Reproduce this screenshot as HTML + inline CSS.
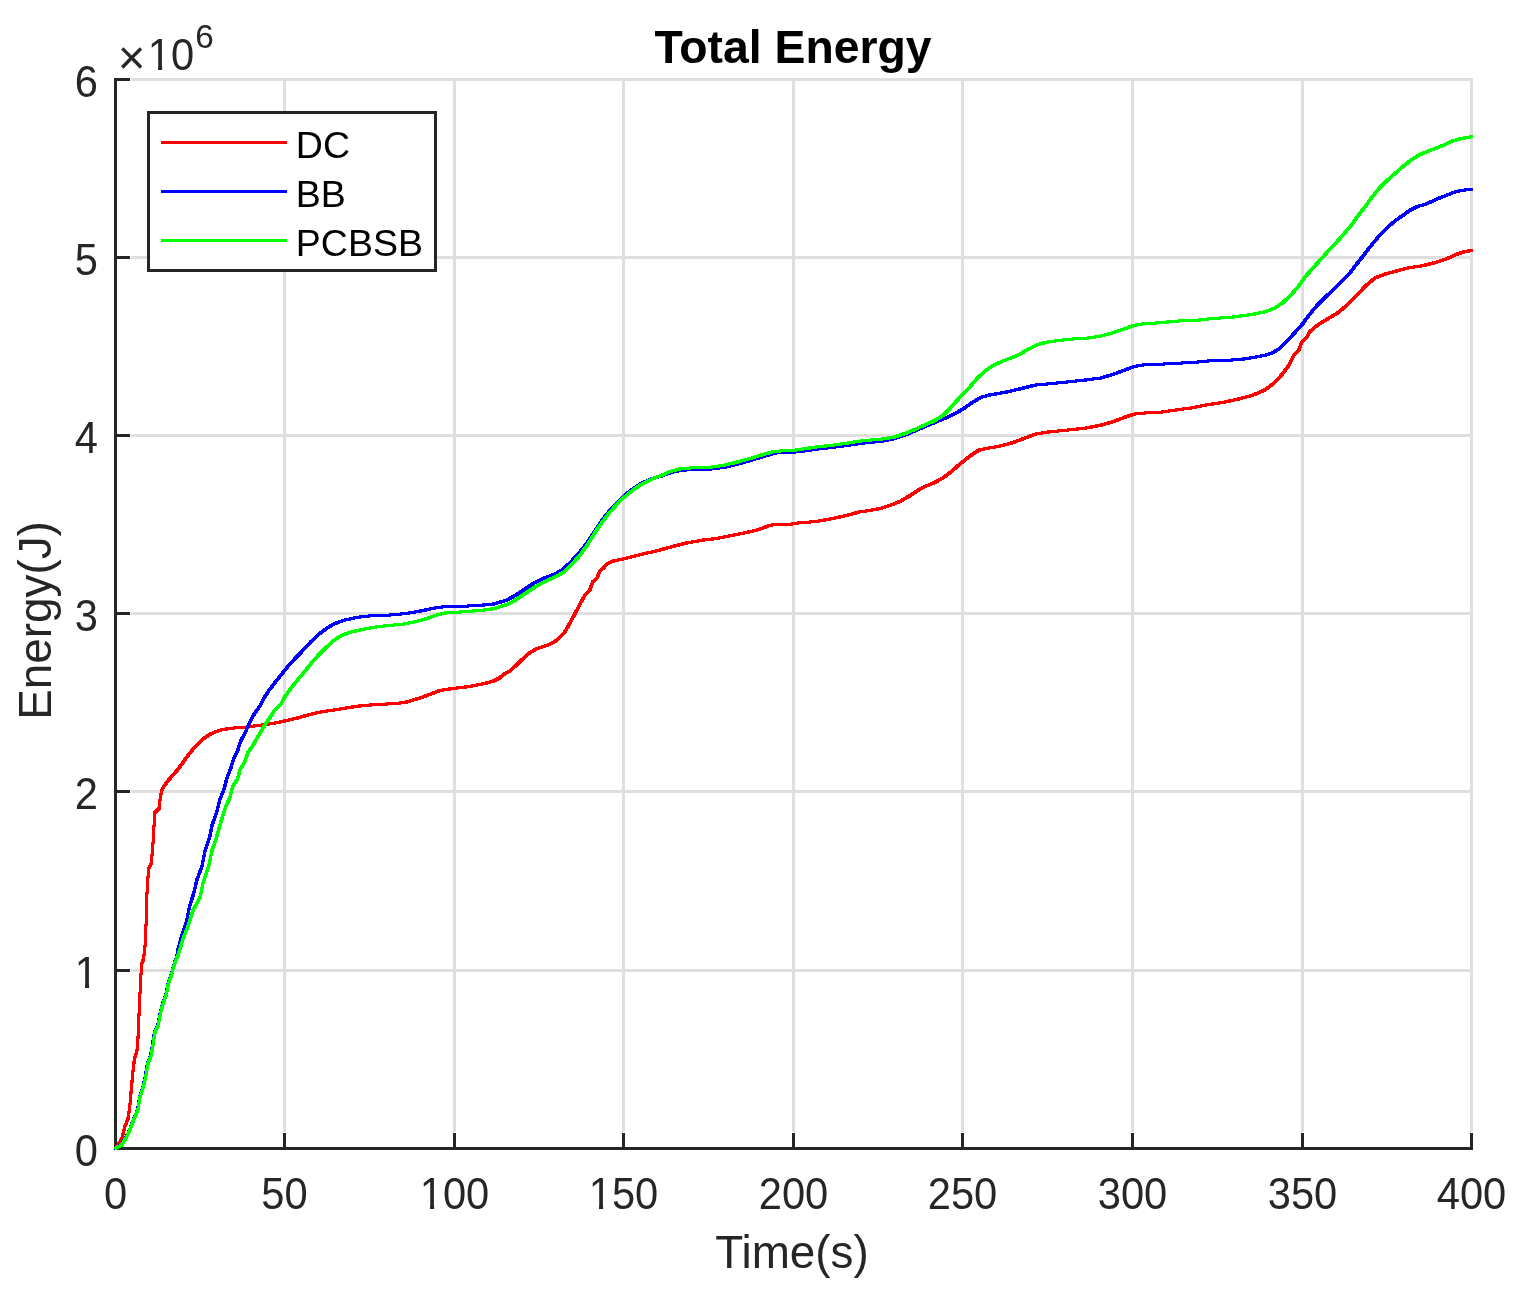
<!DOCTYPE html>
<html lang="en">
<head>
<meta charset="utf-8">
<title>Total Energy</title>
<style>
html,body{margin:0;padding:0;background:#fff;}
body{width:1528px;height:1297px;overflow:hidden;}
svg{display:block;}
text{font-family:"Liberation Sans", Arial, Helvetica, sans-serif;}
.tick{font-size:41.67px;fill:#262626;}
.lab{font-size:45.83px;fill:#262626;}
.leg{font-size:37.5px;fill:#000;}
.title{font-size:45.83px;font-weight:bold;fill:#000;}
</style>
</head>
<body>
<svg width="1528" height="1297" viewBox="0 0 1528 1297">
<rect x="0" y="0" width="1528" height="1297" fill="#ffffff"/>

<g stroke="#dfdfdf" stroke-width="3" shape-rendering="crispEdges" fill="none">
<line x1="115.5" y1="78.0" x2="115.5" y2="1132"/>
<line x1="284.5" y1="78.0" x2="284.5" y2="1132"/>
<line x1="454.5" y1="78.0" x2="454.5" y2="1132"/>
<line x1="623.5" y1="78.0" x2="623.5" y2="1132"/>
<line x1="793.5" y1="78.0" x2="793.5" y2="1132"/>
<line x1="962.5" y1="78.0" x2="962.5" y2="1132"/>
<line x1="1132.5" y1="78.0" x2="1132.5" y2="1132"/>
<line x1="1302.5" y1="78.0" x2="1302.5" y2="1132"/>
<line x1="1471.5" y1="78.0" x2="1471.5" y2="1132"/>
<line x1="131" y1="1148.5" x2="1473.0" y2="1148.5"/>
<line x1="131" y1="970.5" x2="1473.0" y2="970.5"/>
<line x1="131" y1="791.5" x2="1473.0" y2="791.5"/>
<line x1="131" y1="613.5" x2="1473.0" y2="613.5"/>
<line x1="131" y1="435.5" x2="1473.0" y2="435.5"/>
<line x1="131" y1="257.5" x2="1473.0" y2="257.5"/>
<line x1="131" y1="79.5" x2="1473.0" y2="79.5"/>
</g>
<g stroke="#262626" stroke-width="3" shape-rendering="crispEdges" fill="none">
<line x1="115.5" y1="78.0" x2="115.5" y2="1150.0"/>
<line x1="114.0" y1="1148.5" x2="1473.0" y2="1148.5"/>
<line x1="284.5" y1="1150.0" x2="284.5" y2="1133"/>
<line x1="454.5" y1="1150.0" x2="454.5" y2="1133"/>
<line x1="623.5" y1="1150.0" x2="623.5" y2="1133"/>
<line x1="793.5" y1="1150.0" x2="793.5" y2="1133"/>
<line x1="962.5" y1="1150.0" x2="962.5" y2="1133"/>
<line x1="1132.5" y1="1150.0" x2="1132.5" y2="1133"/>
<line x1="1302.5" y1="1150.0" x2="1302.5" y2="1133"/>
<line x1="1471.5" y1="1150.0" x2="1471.5" y2="1133"/>
<line x1="114.0" y1="970.5" x2="130" y2="970.5"/>
<line x1="114.0" y1="791.5" x2="130" y2="791.5"/>
<line x1="114.0" y1="613.5" x2="130" y2="613.5"/>
<line x1="114.0" y1="435.5" x2="130" y2="435.5"/>
<line x1="114.0" y1="257.5" x2="130" y2="257.5"/>
<line x1="114.0" y1="79.5" x2="130" y2="79.5"/>
</g>
<clipPath id="c"><rect x="114.0" y="78.0" width="1359.0" height="1072.0"/></clipPath>
<g stroke="none" fill-rule="nonzero" shape-rendering="crispEdges" clip-path="url(#c)">
<path fill="#ff0000" d="M114.4 1146.95 120.1 1138.55 120.45 1138.2 122.75 1138.2 123.1 1138.55 123.1 1140.85 117.4 1149.25 117.05 1149.6 114.75 1149.6 114.4 1149.25ZM120.1 1138.55 123.1 1126.15 123.45 1125.8 125.75 1125.8 126.1 1126.15 126.1 1128.45 123.1 1140.85 122.75 1141.2 120.45 1141.2 120.1 1140.85ZM123.1 1126.15 126.7 1116.95 127.05 1116.6 129.35 1116.6 129.7 1116.95 129.7 1119.25 126.1 1128.45 125.75 1128.8 123.45 1128.8 123.1 1128.45ZM126.7 1116.95 128.2 1106.15 128.55 1105.8 130.85 1105.8 131.2 1106.15 131.2 1108.45 129.7 1119.25 129.35 1119.6 127.05 1119.6 126.7 1119.25ZM128.2 1106.15 129.3 1093.75 129.65 1093.4 131.95 1093.4 132.3 1093.75 132.3 1096.05 131.2 1108.45 130.85 1108.8 128.55 1108.8 128.2 1108.45ZM129.3 1093.75 130.4 1081.45 130.75 1081.1 133.05 1081.1 133.4 1081.45 133.4 1083.75 132.3 1096.05 131.95 1096.4 129.65 1096.4 129.3 1096.05ZM130.4 1081.45 131.6 1069.15 131.95 1068.8 134.25 1068.8 134.6 1069.15 134.6 1071.45 133.4 1083.75 133.05 1084.1 130.75 1084.1 130.4 1083.75ZM131.6 1069.15 132.9 1058.35 133.25 1058 135.55 1058 135.9 1058.35 135.9 1060.65 134.6 1071.45 134.25 1071.8 131.95 1071.8 131.6 1071.45ZM132.9 1058.35 135.5 1049.05 135.85 1048.7 138.15 1048.7 138.5 1049.05 138.5 1051.35 135.9 1060.65 135.55 1061 133.25 1061 132.9 1060.65ZM135.5 1049.05 136.6 1035.25 136.95 1034.9 139.25 1034.9 139.6 1035.25 139.6 1037.55 138.5 1051.35 138.15 1051.7 135.85 1051.7 135.5 1051.35ZM136.6 1035.25 137.5 1013.65 137.85 1013.3 140.15 1013.3 140.5 1013.65 140.5 1015.95 139.6 1037.55 139.25 1037.9 136.95 1037.9 136.6 1037.55ZM137.5 1013.65 138.6 990.45 138.95 990.1 141.25 990.1 141.6 990.45 141.6 992.75 140.5 1015.95 140.15 1016.3 137.85 1016.3 137.5 1015.95ZM138.6 990.45 139.3 976.65 139.65 976.3 141.95 976.3 142.3 976.65 142.3 978.95 141.6 992.75 141.25 993.1 138.95 993.1 138.6 992.75ZM139.3 976.65 140.1 962.75 140.45 962.4 142.75 962.4 143.1 962.75 143.1 965.05 142.3 978.95 141.95 979.3 139.65 979.3 139.3 978.95ZM140.1 962.75 142.1 957.75 142.45 957.4 144.75 957.4 145.1 957.75 145.1 960.05 143.1 965.05 142.75 965.4 140.45 965.4 140.1 965.05ZM142.1 957.75 144 940.75 144.35 940.4 146.65 940.4 147 940.75 147 943.05 145.1 960.05 144.75 960.4 142.45 960.4 142.1 960.05ZM144 940.75 144.6 920.75 144.95 920.4 147.25 920.4 147.6 920.75 147.6 923.05 147 943.05 146.65 943.4 144.35 943.4 144 943.05ZM144.6 920.75 145.2 897.65 145.55 897.3 147.85 897.3 148.2 897.65 148.2 899.95 147.6 923.05 147.25 923.4 144.95 923.4 144.6 923.05ZM145.2 897.65 146.3 877.55 146.65 877.2 148.95 877.2 149.3 877.55 149.3 879.85 148.2 899.95 147.85 900.3 145.55 900.3 145.2 899.95ZM146.3 877.55 147.4 866.75 147.75 866.4 150.05 866.4 150.4 866.75 150.4 869.05 149.3 879.85 148.95 880.2 146.65 880.2 146.3 879.85ZM147.4 866.75 149.8 862.15 150.15 861.8 152.45 861.8 152.8 862.15 152.8 864.45 150.4 869.05 150.05 869.4 147.75 869.4 147.4 869.05ZM149.8 862.15 151.4 843.65 151.75 843.3 154.05 843.3 154.4 843.65 154.4 845.95 152.8 864.45 152.45 864.8 150.15 864.8 149.8 864.45ZM151.4 843.65 152.4 826.65 152.75 826.3 155.05 826.3 155.4 826.65 155.4 828.95 154.4 845.95 154.05 846.3 151.75 846.3 151.4 845.95ZM152.4 826.65 153.5 811.25 153.85 810.9 156.15 810.9 156.5 811.25 156.5 813.55 155.4 828.95 155.05 829.3 152.75 829.3 152.4 828.95ZM153.5 811.25 153.85 810.9 157.85 807.1 160.15 807.1 160.5 807.45 160.5 809.75 160.15 810.1 156.15 813.9 153.85 813.9 153.5 813.55ZM157.5 807.45 159.1 794.35 159.45 794 161.75 794 162.1 794.35 162.1 796.65 160.5 809.75 160.15 810.1 157.85 810.1 157.5 809.75ZM159.1 794.35 160.7 787.85 161.05 787.5 163.35 787.5 163.7 787.85 163.7 790.15 162.1 796.65 161.75 797 159.45 797 159.1 796.65ZM160.7 787.85 165.5 780.75 165.85 780.4 168.15 780.4 168.5 780.75 168.5 783.05 163.7 790.15 163.35 790.5 161.05 790.5 160.7 790.15ZM165.5 780.75 176.3 768.35 176.65 768 178.95 768 179.3 768.35 179.3 770.65 168.5 783.05 168.15 783.4 165.85 783.4 165.5 783.05ZM176.3 768.35 184.7 756.85 185.05 756.5 187.35 756.5 187.7 756.85 187.7 759.15 179.3 770.65 178.95 771 176.65 771 176.3 770.65ZM184.7 756.85 192.4 746.85 192.75 746.5 195.05 746.5 195.4 746.85 195.4 749.15 187.7 759.15 187.35 759.5 185.05 759.5 184.7 759.15ZM192.4 746.85 192.75 746.5 201.25 738 203.55 738 203.9 738.35 203.9 740.65 203.55 741 195.05 749.5 192.75 749.5 192.4 749.15ZM200.9 738.35 201.25 738 209.75 732.3 212.05 732.3 212.4 732.65 212.4 734.95 212.05 735.3 203.55 741 201.25 741 200.9 740.65ZM209.4 732.65 209.75 732.3 218.25 728.8 220.55 728.8 220.9 729.15 220.9 731.45 220.55 731.8 212.05 735.3 209.75 735.3 209.4 734.95ZM217.9 729.15 218.25 728.8 229.05 726.8 231.35 726.8 231.7 727.15 231.7 729.45 231.35 729.8 220.55 731.8 218.25 731.8 217.9 731.45ZM228.7 727.15 229.05 726.8 244.45 725.7 246.75 725.7 247.1 726.05 247.1 728.35 246.75 728.7 231.35 729.8 229.05 729.8 228.7 729.45ZM244.1 726.05 244.45 725.7 261.35 723.4 263.65 723.4 264 723.75 264 726.05 263.65 726.4 246.75 728.7 244.45 728.7 244.1 728.35ZM261 723.75 261.35 723.4 272.15 721.8 274.45 721.8 274.8 722.15 274.8 724.45 274.45 724.8 263.65 726.4 261.35 726.4 261 726.05ZM271.8 722.15 272.15 721.8 283.45 719.5 285.75 719.5 286.1 719.85 286.1 722.15 285.75 722.5 274.45 724.8 272.15 724.8 271.8 724.45ZM283.1 719.85 283.45 719.5 296.85 716.4 299.15 716.4 299.5 716.75 299.5 719.05 299.15 719.4 285.75 722.5 283.45 722.5 283.1 722.15ZM296.5 716.75 296.85 716.4 309.15 712.9 311.45 712.9 311.8 713.25 311.8 715.55 311.45 715.9 299.15 719.4 296.85 719.4 296.5 719.05ZM308.8 713.25 309.15 712.9 318.45 710.7 320.75 710.7 321.1 711.05 321.1 713.35 320.75 713.7 311.45 715.9 309.15 715.9 308.8 715.55ZM318.1 711.05 318.45 710.7 333.85 708.33 336.15 708.33 336.5 708.68 336.5 710.98 336.15 711.33 320.75 713.7 318.45 713.7 318.1 713.35ZM333.5 708.68 333.85 708.33 349.25 705.82 351.55 705.82 351.9 706.17 351.9 708.47 351.55 708.82 336.15 711.33 333.85 711.33 333.5 710.98ZM348.9 706.17 349.25 705.82 360.05 704.28 362.35 704.28 362.7 704.63 362.7 706.93 362.35 707.28 351.55 708.82 349.25 708.82 348.9 708.47ZM359.7 704.63 360.05 704.28 371.45 703.34 373.75 703.34 374.1 703.69 374.1 705.99 373.75 706.34 362.35 707.28 360.05 707.28 359.7 706.93ZM371.1 703.69 371.45 703.34 396.55 701.89 398.85 701.89 399.2 702.24 399.2 704.54 398.85 704.89 373.75 706.34 371.45 706.34 371.1 705.99ZM396.2 702.24 396.55 701.89 405.95 700.4 408.25 700.4 408.6 700.75 408.6 703.05 408.25 703.4 398.85 704.89 396.55 704.89 396.2 704.54ZM405.6 700.75 405.95 700.4 421.65 695.6 423.95 695.6 424.3 695.95 424.3 698.25 423.95 698.6 408.25 703.4 405.95 703.4 405.6 703.05ZM421.3 695.95 421.65 695.6 431.05 692 433.35 692 433.7 692.35 433.7 694.65 433.35 695 423.95 698.6 421.65 698.6 421.3 698.25ZM430.7 692.35 431.05 692 438.95 688.9 441.25 688.9 441.6 689.25 441.6 691.55 441.25 691.9 433.35 695 431.05 695 430.7 694.65ZM438.6 689.25 438.95 688.9 453.05 686.8 455.35 686.8 455.7 687.15 455.7 689.45 455.35 689.8 441.25 691.9 438.95 691.9 438.6 691.55ZM452.7 687.15 453.05 686.8 468.75 685 471.05 685 471.4 685.35 471.4 687.65 471.05 688 455.35 689.8 453.05 689.8 452.7 689.45ZM468.4 685.35 468.75 685 484.45 681.8 486.75 681.8 487.1 682.15 487.1 684.45 486.75 684.8 471.05 688 468.75 688 468.4 687.65ZM484.1 682.15 484.45 681.8 492.35 679.5 494.65 679.5 495 679.85 495 682.15 494.65 682.5 486.75 684.8 484.45 684.8 484.1 684.45ZM492 679.85 492.35 679.5 497.85 676.8 500.15 676.8 500.5 677.15 500.5 679.45 500.15 679.8 494.65 682.5 492.35 682.5 492 682.15ZM497.5 677.15 497.85 676.8 503.35 672.4 505.65 672.4 506 672.75 506 675.05 505.65 675.4 500.15 679.8 497.85 679.8 497.5 679.45ZM503 672.75 503.35 672.4 508.05 670 510.35 670 510.7 670.35 510.7 672.65 510.35 673 505.65 675.4 503.35 675.4 503 675.05ZM507.7 670.35 508.05 670 514.35 664.5 516.65 664.5 517 664.85 517 667.15 516.65 667.5 510.35 673 508.05 673 507.7 672.65ZM514 664.85 514.35 664.5 520.65 658.3 522.95 658.3 523.3 658.65 523.3 660.95 522.95 661.3 516.65 667.5 514.35 667.5 514 667.15ZM520.3 658.65 520.65 658.3 527.65 652 529.95 652 530.3 652.35 530.3 654.65 529.95 655 522.95 661.3 520.65 661.3 520.3 660.95ZM527.3 652.35 527.65 652 534.75 647.6 537.05 647.6 537.4 647.95 537.4 650.25 537.05 650.6 529.95 655 527.65 655 527.3 654.65ZM534.4 647.95 534.75 647.6 547.35 643.3 549.65 643.3 550 643.65 550 645.95 549.65 646.3 537.05 650.6 534.75 650.6 534.4 650.25ZM547 643.65 547.35 643.3 555.15 639.1 557.45 639.1 557.8 639.45 557.8 641.75 557.45 642.1 549.65 646.3 547.35 646.3 547 645.95ZM554.8 639.45 555.15 639.1 563.05 631.6 565.35 631.6 565.7 631.95 565.7 634.25 565.35 634.6 557.45 642.1 555.15 642.1 554.8 641.75ZM562.7 631.95 568.8 621.25 569.15 620.9 571.45 620.9 571.8 621.25 571.8 623.55 565.7 634.25 565.35 634.6 563.05 634.6 562.7 634.25ZM568.8 621.25 575 609.55 575.35 609.2 577.65 609.2 578 609.55 578 611.85 571.8 623.55 571.45 623.9 569.15 623.9 568.8 623.55ZM575 609.55 583.3 594.15 583.65 593.8 585.95 593.8 586.3 594.15 586.3 596.45 578 611.85 577.65 612.2 575.35 612.2 575 611.85ZM583.3 594.15 588.3 589.05 588.65 588.7 590.95 588.7 591.3 589.05 591.3 591.35 586.3 596.45 585.95 596.8 583.65 596.8 583.3 596.45ZM588.3 589.05 591.1 580.85 591.45 580.5 593.75 580.5 594.1 580.85 594.1 583.15 591.3 591.35 590.95 591.7 588.65 591.7 588.3 591.35ZM591.1 580.85 591.45 580.5 595.75 576.9 598.05 576.9 598.4 577.25 598.4 579.55 598.05 579.9 593.75 583.5 591.45 583.5 591.1 583.15ZM595.4 577.25 598.2 569.85 598.55 569.5 600.85 569.5 601.2 569.85 601.2 572.15 598.4 579.55 598.05 579.9 595.75 579.9 595.4 579.55ZM598.2 569.85 598.55 569.5 602.65 566.3 604.95 566.3 605.3 566.65 605.3 568.95 604.95 569.3 600.85 572.5 598.55 572.5 598.2 572.15ZM602.3 566.65 605.4 562.75 605.75 562.4 608.05 562.4 608.4 562.75 608.4 565.05 605.3 568.95 604.95 569.3 602.65 569.3 602.3 568.95ZM605.4 562.75 605.75 562.4 612.85 559.3 615.15 559.3 615.5 559.65 615.5 561.95 615.15 562.3 608.05 565.4 605.75 565.4 605.4 565.05ZM612.5 559.65 612.85 559.3 622.25 557.4 624.55 557.4 624.9 557.75 624.9 560.05 624.55 560.4 615.15 562.3 612.85 562.3 612.5 561.95ZM621.9 557.75 622.25 557.4 639.55 553 641.85 553 642.2 553.35 642.2 555.65 641.85 556 624.55 560.4 622.25 560.4 621.9 560.05ZM639.2 553.35 639.55 553 656.85 549.1 659.15 549.1 659.5 549.45 659.5 551.75 659.15 552.1 641.85 556 639.55 556 639.2 555.65ZM656.5 549.45 656.85 549.1 670.95 545.1 673.25 545.1 673.6 545.45 673.6 547.75 673.25 548.1 659.15 552.1 656.85 552.1 656.5 551.75ZM670.6 545.45 670.95 545.1 686.65 541.2 688.95 541.2 689.3 541.55 689.3 543.85 688.95 544.2 673.25 548.1 670.95 548.1 670.6 547.75ZM686.3 541.55 686.65 541.2 702.35 538.5 704.65 538.5 705 538.85 705 541.15 704.65 541.5 688.95 544.2 686.65 544.2 686.3 543.85ZM702 538.85 702.35 538.5 713.35 537.3 715.65 537.3 716 537.65 716 539.95 715.65 540.3 704.65 541.5 702.35 541.5 702 541.15ZM713 537.65 713.35 537.3 725.95 534.9 728.25 534.9 728.6 535.25 728.6 537.55 728.25 537.9 715.65 540.3 713.35 540.3 713 539.95ZM725.6 535.25 725.95 534.9 741.65 531.8 743.95 531.8 744.3 532.15 744.3 534.45 743.95 534.8 728.25 537.9 725.95 537.9 725.6 537.55ZM741.3 532.15 741.65 531.8 757.35 528.2 759.65 528.2 760 528.55 760 530.85 759.65 531.2 743.95 534.8 741.65 534.8 741.3 534.45ZM757 528.55 757.35 528.2 768.35 523.9 770.65 523.9 771 524.25 771 526.55 770.65 526.9 759.65 531.2 757.35 531.2 757 530.85ZM768 524.25 768.35 523.9 776.15 522.8 778.45 522.8 778.8 523.15 778.8 525.45 778.45 525.8 770.65 526.9 768.35 526.9 768 526.55ZM775.8 523.15 776.15 522.8 791.05 522.8 791.4 523.15 791.4 525.45 791.05 525.8 776.15 525.8 775.8 525.45ZM788.4 523.15 788.75 522.8 798.15 521.3 800.45 521.3 800.8 521.65 800.8 523.95 800.45 524.3 791.05 525.8 788.75 525.8 788.4 525.45ZM797.8 521.65 798.15 521.3 814.55 520.1 816.85 520.1 817.2 520.45 817.2 522.75 816.85 523.1 800.45 524.3 798.15 524.3 797.8 523.95ZM814.2 520.45 814.55 520.1 830.25 517.3 832.55 517.3 832.9 517.65 832.9 519.95 832.55 520.3 816.85 523.1 814.55 523.1 814.2 522.75ZM829.9 517.65 830.25 517.3 845.95 513.8 848.25 513.8 848.6 514.15 848.6 516.45 848.25 516.8 832.55 520.3 830.25 520.3 829.9 519.95ZM845.6 514.15 845.95 513.8 858.55 510.4 860.85 510.4 861.2 510.75 861.2 513.05 860.85 513.4 848.25 516.8 845.95 516.8 845.6 516.45ZM858.2 510.75 858.55 510.4 869.55 508.8 871.85 508.8 872.2 509.15 872.2 511.45 871.85 511.8 860.85 513.4 858.55 513.4 858.2 513.05ZM869.2 509.15 869.55 508.8 880.55 506.7 882.85 506.7 883.2 507.05 883.2 509.35 882.85 509.7 871.85 511.8 869.55 511.8 869.2 511.45ZM880.2 507.05 880.55 506.7 889.95 503.6 892.25 503.6 892.6 503.95 892.6 506.25 892.25 506.6 882.85 509.7 880.55 509.7 880.2 509.35ZM889.6 503.95 889.95 503.6 899.35 499.7 901.65 499.7 902 500.05 902 502.35 901.65 502.7 892.25 506.6 889.95 506.6 889.6 506.25ZM899 500.05 899.35 499.7 908.75 494.2 911.05 494.2 911.4 494.55 911.4 496.85 911.05 497.2 901.65 502.7 899.35 502.7 899 502.35ZM908.4 494.55 908.75 494.2 918.25 487.9 920.55 487.9 920.9 488.25 920.9 490.55 920.55 490.9 911.05 497.2 908.75 497.2 908.4 496.85ZM917.9 488.25 918.25 487.9 924.45 484.8 926.75 484.8 927.1 485.15 927.1 487.45 926.75 487.8 920.55 490.9 918.25 490.9 917.9 490.55ZM924.1 485.15 924.45 484.8 933.95 480.8 936.25 480.8 936.6 481.15 936.6 483.45 936.25 483.8 926.75 487.8 924.45 487.8 924.1 487.45ZM933.6 481.15 933.95 480.8 941.75 476.4 944.05 476.4 944.4 476.75 944.4 479.05 944.05 479.4 936.25 483.8 933.95 483.8 933.6 483.45ZM941.4 476.75 941.75 476.4 949.65 470.6 951.95 470.6 952.3 470.95 952.3 473.25 951.95 473.6 944.05 479.4 941.75 479.4 941.4 479.05ZM949.3 470.95 949.65 470.6 957.45 463.6 959.75 463.6 960.1 463.95 960.1 466.25 959.75 466.6 951.95 473.6 949.65 473.6 949.3 473.25ZM957.1 463.95 957.45 463.6 965.35 457.3 967.65 457.3 968 457.65 968 459.95 967.65 460.3 959.75 466.6 957.45 466.6 957.1 466.25ZM965 457.65 965.35 457.3 971.65 452.6 973.95 452.6 974.3 452.95 974.3 455.25 973.95 455.6 967.65 460.3 965.35 460.3 965 459.95ZM971.3 452.95 971.65 452.6 977.85 448.6 980.15 448.6 980.5 448.95 980.5 451.25 980.15 451.6 973.95 455.6 971.65 455.6 971.3 455.25ZM977.5 448.95 977.85 448.6 987.35 446.6 989.65 446.6 990 446.95 990 449.25 989.65 449.6 980.15 451.6 977.85 451.6 977.5 451.25ZM987 446.95 987.35 446.6 998.35 444.7 1000.65 444.7 1001 445.05 1001 447.35 1000.65 447.7 989.65 449.6 987.35 449.6 987 449.25ZM998 445.05 998.35 444.7 1010.85 441.4 1013.15 441.4 1013.5 441.75 1013.5 444.05 1013.15 444.4 1000.65 447.7 998.35 447.7 998 447.35ZM1010.5 441.75 1010.85 441.4 1022.45 437.1 1024.75 437.1 1025.1 437.45 1025.1 439.75 1024.75 440.1 1013.15 444.4 1010.85 444.4 1010.5 444.05ZM1022.1 437.45 1022.45 437.1 1035.05 432.3 1037.35 432.3 1037.7 432.65 1037.7 434.95 1037.35 435.3 1024.75 440.1 1022.45 440.1 1022.1 439.75ZM1034.7 432.65 1035.05 432.3 1048.15 430.4 1050.45 430.4 1050.8 430.75 1050.8 433.05 1050.45 433.4 1037.35 435.3 1035.05 435.3 1034.7 434.95ZM1047.8 430.75 1048.15 430.4 1063.85 428.8 1066.15 428.8 1066.5 429.15 1066.5 431.45 1066.15 431.8 1050.45 433.4 1048.15 433.4 1047.8 433.05ZM1063.5 429.15 1063.85 428.8 1084.25 426.7 1086.55 426.7 1086.9 427.05 1086.9 429.35 1086.55 429.7 1066.15 431.8 1063.85 431.8 1063.5 431.45ZM1083.9 427.05 1084.25 426.7 1099.95 423.6 1102.25 423.6 1102.6 423.95 1102.6 426.25 1102.25 426.6 1086.55 429.7 1084.25 429.7 1083.9 429.35ZM1099.6 423.95 1099.95 423.6 1112.55 420 1114.85 420 1115.2 420.35 1115.2 422.65 1114.85 423 1102.25 426.6 1099.95 426.6 1099.6 426.25ZM1112.2 420.35 1112.55 420 1123.55 415.8 1125.85 415.8 1126.2 416.15 1126.2 418.45 1125.85 418.8 1114.85 423 1112.55 423 1112.2 422.65ZM1123.2 416.15 1123.55 415.8 1132.95 412.6 1135.25 412.6 1135.6 412.95 1135.6 415.25 1135.25 415.6 1125.85 418.8 1123.55 418.8 1123.2 418.45ZM1132.6 412.95 1132.95 412.6 1143.95 411.5 1146.25 411.5 1146.6 411.85 1146.6 414.15 1146.25 414.5 1135.25 415.6 1132.95 415.6 1132.6 415.25ZM1143.6 411.85 1143.95 411.5 1159.65 410.7 1161.95 410.7 1162.3 411.05 1162.3 413.35 1161.95 413.7 1146.25 414.5 1143.95 414.5 1143.6 414.15ZM1159.3 411.05 1159.65 410.7 1175.35 408.4 1177.65 408.4 1178 408.75 1178 411.05 1177.65 411.4 1161.95 413.7 1159.65 413.7 1159.3 413.35ZM1175 408.75 1175.35 408.4 1191.05 406.3 1193.35 406.3 1193.7 406.65 1193.7 408.95 1193.35 409.3 1177.65 411.4 1175.35 411.4 1175 411.05ZM1190.7 406.65 1191.05 406.3 1206.75 403.2 1209.05 403.2 1209.4 403.55 1209.4 405.85 1209.05 406.2 1193.35 409.3 1191.05 409.3 1190.7 408.95ZM1206.4 403.55 1206.75 403.2 1222.45 400.8 1224.75 400.8 1225.1 401.15 1225.1 403.45 1224.75 403.8 1209.05 406.2 1206.75 406.2 1206.4 405.85ZM1222.1 401.15 1222.45 400.8 1237.35 397.5 1239.65 397.5 1240 397.85 1240 400.15 1239.65 400.5 1224.75 403.8 1222.45 403.8 1222.1 403.45ZM1237 397.85 1237.35 397.5 1251.45 393.8 1253.75 393.8 1254.1 394.15 1254.1 396.45 1253.75 396.8 1239.65 400.5 1237.35 400.5 1237 400.15ZM1251.1 394.15 1251.45 393.8 1263.95 388.3 1266.25 388.3 1266.6 388.65 1266.6 390.95 1266.25 391.3 1253.75 396.8 1251.45 396.8 1251.1 396.45ZM1263.6 388.65 1263.95 388.3 1273.45 381.2 1275.75 381.2 1276.1 381.55 1276.1 383.85 1275.75 384.2 1266.25 391.3 1263.95 391.3 1263.6 390.95ZM1273.1 381.55 1280.9 372.95 1281.25 372.6 1283.55 372.6 1283.9 372.95 1283.9 375.25 1276.1 383.85 1275.75 384.2 1273.45 384.2 1273.1 383.85ZM1280.9 372.95 1287.2 364.35 1287.55 364 1289.85 364 1290.2 364.35 1290.2 366.65 1283.9 375.25 1283.55 375.6 1281.25 375.6 1280.9 375.25ZM1287.2 364.35 1291.9 354.82 1292.25 354.47 1294.55 354.47 1294.9 354.82 1294.9 357.12 1290.2 366.65 1289.85 367 1287.55 367 1287.2 366.65ZM1291.9 354.82 1297.4 348.56 1297.75 348.21 1300.05 348.21 1300.4 348.56 1300.4 350.86 1294.9 357.12 1294.55 357.47 1292.25 357.47 1291.9 357.12ZM1297.4 348.56 1300.5 340.63 1300.85 340.28 1303.15 340.28 1303.5 340.63 1303.5 342.93 1300.4 350.86 1300.05 351.21 1297.75 351.21 1297.4 350.86ZM1300.5 340.63 1300.85 340.28 1305.65 335.53 1307.95 335.53 1308.3 335.88 1308.3 338.18 1307.95 338.53 1303.15 343.28 1300.85 343.28 1300.5 342.93ZM1305.3 335.88 1308.4 330.35 1308.75 330 1311.05 330 1311.4 330.35 1311.4 332.65 1308.3 338.18 1307.95 338.53 1305.65 338.53 1305.3 338.18ZM1308.4 330.35 1308.75 330 1317.35 322.81 1319.65 322.81 1320 323.16 1320 325.46 1319.65 325.81 1311.05 333 1308.75 333 1308.4 332.65ZM1317 323.16 1317.35 322.81 1326.85 317.22 1329.15 317.22 1329.5 317.57 1329.5 319.87 1329.15 320.22 1319.65 325.81 1317.35 325.81 1317 325.46ZM1326.5 317.57 1326.85 317.22 1337.05 311 1339.35 311 1339.7 311.35 1339.7 313.65 1339.35 314 1329.15 320.22 1326.85 320.22 1326.5 319.87ZM1336.7 311.35 1337.05 311 1345.65 303.9 1347.95 303.9 1348.3 304.25 1348.3 306.55 1347.95 306.9 1339.35 314 1337.05 314 1336.7 313.65ZM1345.3 304.25 1355.05 294.5 1357.35 294.5 1357.7 294.85 1357.7 297.15 1347.95 306.9 1345.65 306.9 1345.3 306.55ZM1354.7 294.85 1364.1 284.65 1364.45 284.3 1366.75 284.3 1367.1 284.65 1367.1 286.95 1357.7 297.15 1357.35 297.5 1355.05 297.5 1354.7 297.15ZM1364.1 284.65 1364.45 284.3 1373.95 276.4 1376.25 276.4 1376.6 276.75 1376.6 279.05 1376.25 279.4 1366.75 287.3 1364.45 287.3 1364.1 286.95ZM1373.6 276.75 1373.95 276.4 1383.35 272.8 1385.65 272.8 1386 273.15 1386 275.45 1385.65 275.8 1376.25 279.4 1373.95 279.4 1373.6 279.05ZM1383 273.15 1383.35 272.8 1395.95 269.3 1398.25 269.3 1398.6 269.65 1398.6 271.95 1398.25 272.3 1385.65 275.8 1383.35 275.8 1383 275.45ZM1395.6 269.65 1395.95 269.3 1408.45 266.2 1410.75 266.2 1411.1 266.55 1411.1 268.85 1410.75 269.2 1398.25 272.3 1395.95 272.3 1395.6 271.95ZM1408.1 266.55 1408.45 266.2 1421.05 264.3 1423.35 264.3 1423.7 264.65 1423.7 266.95 1423.35 267.3 1410.75 269.2 1408.45 269.2 1408.1 268.85ZM1420.7 264.65 1421.05 264.3 1433.65 261.2 1435.95 261.2 1436.3 261.55 1436.3 263.85 1435.95 264.2 1423.35 267.3 1421.05 267.3 1420.7 266.95ZM1433.3 261.55 1433.65 261.2 1446.15 257.1 1448.45 257.1 1448.8 257.45 1448.8 259.75 1448.45 260.1 1435.95 264.2 1433.65 264.2 1433.3 263.85ZM1445.8 257.45 1446.15 257.1 1455.55 252.8 1457.85 252.8 1458.2 253.15 1458.2 255.45 1457.85 255.8 1448.45 260.1 1446.15 260.1 1445.8 259.75ZM1455.2 253.15 1455.55 252.8 1463.45 250.2 1465.75 250.2 1466.1 250.55 1466.1 252.85 1465.75 253.2 1457.85 255.8 1455.55 255.8 1455.2 255.45ZM1463.1 250.55 1463.45 250.2 1470.55 248.9 1472.85 248.9 1473.2 249.25 1473.2 251.55 1472.85 251.9 1465.75 253.2 1463.45 253.2 1463.1 252.85Z"/>
<path fill="#0000ff" d="M114.2 1146.95 114.55 1146.6 120.15 1143.6 122.45 1143.6 122.8 1143.95 122.8 1146.25 122.45 1146.6 116.85 1149.6 114.55 1149.6 114.2 1149.25ZM119.8 1143.95 126.7 1132.35 127.05 1132 129.35 1132 129.7 1132.35 129.7 1134.65 122.8 1146.25 122.45 1146.6 120.15 1146.6 119.8 1146.25ZM126.7 1132.35 131.3 1120.05 131.65 1119.7 133.95 1119.7 134.3 1120.05 134.3 1122.35 129.7 1134.65 129.35 1135 127.05 1135 126.7 1134.65ZM131.3 1120.05 136 1109.25 136.35 1108.9 138.65 1108.9 139 1109.25 139 1111.55 134.3 1122.35 133.95 1122.7 131.65 1122.7 131.3 1122.35ZM136 1109.25 138.3 1095.35 138.65 1095 140.95 1095 141.3 1095.35 141.3 1097.65 139 1111.55 138.65 1111.9 136.35 1111.9 136 1111.55ZM138.3 1095.35 141.4 1086.05 141.75 1085.7 144.05 1085.7 144.4 1086.05 144.4 1088.35 141.3 1097.65 140.95 1098 138.65 1098 138.3 1097.65ZM141.4 1086.05 143.9 1075.25 144.25 1074.9 146.55 1074.9 146.9 1075.25 146.9 1077.55 144.4 1088.35 144.05 1088.7 141.75 1088.7 141.4 1088.35ZM143.9 1075.25 145.9 1062.95 146.25 1062.6 148.55 1062.6 148.9 1062.95 148.9 1065.25 146.9 1077.55 146.55 1077.9 144.25 1077.9 143.9 1077.55ZM145.9 1062.95 149 1055.25 149.35 1054.9 151.65 1054.9 152 1055.25 152 1057.55 148.9 1065.25 148.55 1065.6 146.25 1065.6 145.9 1065.25ZM149 1055.25 150.9 1044.45 151.25 1044.1 153.55 1044.1 153.9 1044.45 153.9 1046.75 152 1057.55 151.65 1057.9 149.35 1057.9 149 1057.55ZM150.9 1044.45 152.75 1032.15 153.1 1031.8 155.4 1031.8 155.75 1032.15 155.75 1034.45 153.9 1046.75 153.55 1047.1 151.25 1047.1 150.9 1046.75ZM152.75 1032.15 156.11 1024.45 156.46 1024.1 158.76 1024.1 159.11 1024.45 159.11 1026.75 155.75 1034.45 155.4 1034.8 153.1 1034.8 152.75 1034.45ZM156.11 1024.45 159.01 1010.55 159.36 1010.2 161.66 1010.2 162.01 1010.55 162.01 1012.85 159.11 1026.75 158.76 1027.1 156.46 1027.1 156.11 1026.75ZM159.01 1010.55 161.28 1002.05 161.63 1001.7 163.93 1001.7 164.28 1002.05 164.28 1004.35 162.01 1012.85 161.66 1013.2 159.36 1013.2 159.01 1012.85ZM161.28 1002.05 164.35 993.55 164.7 993.2 167 993.2 167.35 993.55 167.35 995.85 164.28 1004.35 163.93 1004.7 161.63 1004.7 161.28 1004.35ZM164.35 993.55 166.46 982.75 166.81 982.4 169.11 982.4 169.46 982.75 169.46 985.05 167.35 995.85 167 996.2 164.7 996.2 164.35 995.85ZM166.46 982.75 169.03 975.85 169.38 975.5 171.68 975.5 172.03 975.85 172.03 978.15 169.46 985.05 169.11 985.4 166.81 985.4 166.46 985.05ZM169.03 975.85 171.42 967.35 171.77 967 174.07 967 174.42 967.35 174.42 969.65 172.03 978.15 171.68 978.5 169.38 978.5 169.03 978.15ZM171.42 967.35 173.69 959.65 174.04 959.3 176.34 959.3 176.69 959.65 176.69 961.95 174.42 969.65 174.07 970 171.77 970 171.42 969.65ZM173.69 959.65 174.71 957.75 175.06 957.4 177.36 957.4 177.71 957.75 177.71 960.05 176.69 961.95 176.34 962.3 174.04 962.3 173.69 961.95ZM174.71 957.75 176.4 948.85 176.75 948.5 179.05 948.5 179.4 948.85 179.4 951.15 177.71 960.05 177.36 960.4 175.06 960.4 174.71 960.05ZM176.4 948.85 180.3 934.65 180.65 934.3 182.95 934.3 183.3 934.65 183.3 936.95 179.4 951.15 179.05 951.5 176.75 951.5 176.4 951.15ZM180.3 934.65 184.91 920.75 185.26 920.4 187.56 920.4 187.91 920.75 187.91 923.05 183.3 936.95 182.95 937.3 180.65 937.3 180.3 936.95ZM184.91 920.75 188.02 905.35 188.37 905 190.67 905 191.02 905.35 191.02 907.65 187.91 923.05 187.56 923.4 185.26 923.4 184.91 923.05ZM188.02 905.35 191.93 892.95 192.28 892.6 194.58 892.6 194.93 892.95 194.93 895.25 191.02 907.65 190.67 908 188.37 908 188.02 907.65ZM191.93 892.95 195.74 877.55 196.09 877.2 198.39 877.2 198.74 877.55 198.74 879.85 194.93 895.25 194.58 895.6 192.28 895.6 191.93 895.25ZM195.74 877.55 200.45 865.25 200.8 864.9 203.1 864.9 203.45 865.25 203.45 867.55 198.74 879.85 198.39 880.2 196.09 880.2 195.74 879.85ZM200.45 865.25 203.46 849.85 203.81 849.5 206.11 849.5 206.46 849.85 206.46 852.15 203.45 867.55 203.1 867.9 200.8 867.9 200.45 867.55ZM203.46 849.85 208.17 835.95 208.52 835.6 210.82 835.6 211.17 835.95 211.17 838.25 206.46 852.15 206.11 852.5 203.81 852.5 203.46 852.15ZM208.17 835.95 210.48 824.35 210.83 824 213.13 824 213.48 824.35 213.48 826.65 211.17 838.25 210.82 838.6 208.52 838.6 208.17 838.25ZM210.48 824.35 215.09 811.25 215.44 810.9 217.74 810.9 218.09 811.25 218.09 813.55 213.48 826.65 213.13 827 210.83 827 210.48 826.65ZM215.09 811.25 218.2 798.95 218.55 798.6 220.85 798.6 221.2 798.95 221.2 801.25 218.09 813.55 217.74 813.9 215.44 813.9 215.09 813.55ZM218.2 798.95 222.84 787.35 223.19 787 225.49 787 225.84 787.35 225.84 789.65 221.2 801.25 220.85 801.6 218.55 801.6 218.2 801.25ZM222.84 787.35 225.18 777.35 225.53 777 227.83 777 228.18 777.35 228.18 779.65 225.84 789.65 225.49 790 223.19 790 222.84 789.65ZM225.18 777.35 229.02 767.85 229.37 767.5 231.67 767.5 232.02 767.85 232.02 770.15 228.18 779.65 227.83 780 225.53 780 225.18 779.65ZM229.02 767.85 232.15 757.85 232.5 757.5 234.8 757.5 235.15 757.85 235.15 760.15 232.02 770.15 231.67 770.5 229.37 770.5 229.02 770.15ZM232.15 757.85 235.98 749.95 236.33 749.6 238.63 749.6 238.98 749.95 238.98 752.25 235.15 760.15 234.8 760.5 232.5 760.5 232.15 760.15ZM235.98 749.95 239.12 739.95 239.47 739.6 241.77 739.6 242.12 739.95 242.12 742.25 238.98 752.25 238.63 752.6 236.33 752.6 235.98 752.25ZM239.12 739.95 243.75 731.45 244.1 731.1 246.4 731.1 246.75 731.45 246.75 733.75 242.12 742.25 241.77 742.6 239.47 742.6 239.12 742.25ZM243.75 731.45 246.88 723.75 247.23 723.4 249.53 723.4 249.88 723.75 249.88 726.05 246.75 733.75 246.4 734.1 244.1 734.1 243.75 733.75ZM246.88 723.75 252.27 713.75 252.62 713.4 254.92 713.4 255.27 713.75 255.27 716.05 249.88 726.05 249.53 726.4 247.23 726.4 246.88 726.05ZM252.27 713.75 259.22 703.65 259.57 703.3 261.87 703.3 262.22 703.65 262.22 705.95 255.27 716.05 254.92 716.4 252.62 716.4 252.27 716.05ZM259.22 703.65 262.19 697.55 262.54 697.2 264.84 697.2 265.19 697.55 265.19 699.85 262.22 705.95 261.87 706.3 259.57 706.3 259.22 705.95ZM262.19 697.55 267.55 689.05 267.9 688.7 270.2 688.7 270.55 689.05 270.55 691.35 265.19 699.85 264.84 700.2 262.54 700.2 262.19 699.85ZM267.55 689.05 275.3 679.05 275.65 678.7 277.95 678.7 278.3 679.05 278.3 681.35 270.55 691.35 270.2 691.7 267.9 691.7 267.55 691.35ZM275.3 679.05 282.16 670.55 282.51 670.2 284.81 670.2 285.16 670.55 285.16 672.85 278.3 681.35 277.95 681.7 275.65 681.7 275.3 681.35ZM282.16 670.55 289.02 662.05 289.37 661.7 291.67 661.7 292.02 662.05 292.02 664.35 285.16 672.85 284.81 673.2 282.51 673.2 282.16 672.85ZM289.02 662.05 297.42 653.55 297.77 653.2 300.07 653.2 300.42 653.55 300.42 655.85 292.02 664.35 291.67 664.7 289.37 664.7 289.02 664.35ZM297.42 653.55 309.52 640.45 309.87 640.1 312.17 640.1 312.52 640.45 312.52 642.75 300.42 655.85 300.07 656.2 297.77 656.2 297.42 655.85ZM309.52 640.45 309.87 640.1 318.26 632.4 320.56 632.4 320.91 632.75 320.91 635.05 320.56 635.4 312.17 643.1 309.87 643.1 309.52 642.75ZM317.91 632.75 318.26 632.4 325.18 627 327.48 627 327.83 627.35 327.83 629.65 327.48 630 320.56 635.4 318.26 635.4 317.91 635.05ZM324.83 627.35 325.18 627 332.81 622.42 335.11 622.42 335.46 622.77 335.46 625.07 335.11 625.42 327.48 630 325.18 630 324.83 629.65ZM332.46 622.77 332.81 622.42 343.55 618.58 345.85 618.58 346.2 618.93 346.2 621.23 345.85 621.58 335.11 625.42 332.81 625.42 332.46 625.07ZM343.2 618.93 343.55 618.58 355.8 615.95 358.1 615.95 358.45 616.3 358.45 618.6 358.1 618.95 345.85 621.58 343.55 621.58 343.2 621.23ZM355.45 616.3 355.8 615.95 364.17 614.7 366.47 614.7 366.82 615.05 366.82 617.35 366.47 617.7 358.1 618.95 355.8 618.95 355.45 618.6ZM363.82 615.05 364.17 614.7 374.86 614.16 377.16 614.16 377.51 614.51 377.51 616.81 377.16 617.16 366.47 617.7 364.17 617.7 363.82 617.35ZM374.51 614.51 374.86 614.16 390.25 613.45 392.55 613.45 392.9 613.8 392.9 616.1 392.55 616.45 377.16 617.16 374.86 617.16 374.51 616.81ZM389.9 613.8 390.25 613.45 405.95 611.9 408.25 611.9 408.6 612.25 408.6 614.55 408.25 614.9 392.55 616.45 390.25 616.45 389.9 616.1ZM405.6 612.25 405.95 611.9 421.65 609.1 423.95 609.1 424.3 609.45 424.3 611.75 423.95 612.1 408.25 614.9 405.95 614.9 405.6 614.55ZM421.3 609.45 421.65 609.1 434.25 606.4 436.55 606.4 436.9 606.75 436.9 609.05 436.55 609.4 423.95 612.1 421.65 612.1 421.3 611.75ZM433.9 606.75 434.25 606.4 443.65 605.2 445.95 605.2 446.3 605.55 446.3 607.85 445.95 608.2 436.55 609.4 434.25 609.4 433.9 609.05ZM443.3 605.55 443.65 605.2 460.95 604.9 463.25 604.9 463.6 605.25 463.6 607.55 463.25 607.9 445.95 608.2 443.65 608.2 443.3 607.85ZM460.6 605.25 460.95 604.9 481.35 603.6 483.65 603.6 484 603.95 484 606.25 483.65 606.6 463.25 607.9 460.95 607.9 460.6 607.55ZM481 603.95 481.35 603.6 492.35 602.5 494.65 602.5 495 602.85 495 605.15 494.65 605.5 483.65 606.6 481.35 606.6 481 606.25ZM492 602.85 492.35 602.5 504.95 598.9 507.25 598.9 507.6 599.25 507.6 601.55 507.25 601.9 494.65 605.5 492.35 605.5 492 605.15ZM504.6 599.25 504.95 598.9 514.35 593.9 516.65 593.9 517 594.25 517 596.55 516.65 596.9 507.25 601.9 504.95 601.9 504.6 601.55ZM514 594.25 514.35 593.9 523.75 587.6 526.05 587.6 526.4 587.95 526.4 590.25 526.05 590.6 516.65 596.9 514.35 596.9 514 596.55ZM523.4 587.95 523.75 587.6 533.15 581.3 535.45 581.3 535.8 581.65 535.8 583.95 535.45 584.3 526.05 590.6 523.75 590.6 523.4 590.25ZM532.8 581.65 533.15 581.3 542.65 576.6 544.95 576.6 545.3 576.95 545.3 579.25 544.95 579.6 535.45 584.3 533.15 584.3 532.8 583.95ZM542.3 576.95 542.65 576.6 553.65 572.7 555.95 572.7 556.3 573.05 556.3 575.35 555.95 575.7 544.95 579.6 542.65 579.6 542.3 579.25ZM553.3 573.05 553.65 572.7 561.45 568 563.75 568 564.1 568.35 564.1 570.65 563.75 571 555.95 575.7 553.65 575.7 553.3 575.35ZM561.1 568.35 561.45 568 568.85 561.4 571.15 561.4 571.5 561.75 571.5 564.05 571.15 564.4 563.75 571 561.45 571 561.1 570.65ZM568.5 561.75 577.3 552.05 577.65 551.7 579.95 551.7 580.3 552.05 580.3 554.35 571.5 564.05 571.15 564.4 568.85 564.4 568.5 564.05ZM577.3 552.05 585.5 541.85 585.85 541.5 588.15 541.5 588.5 541.85 588.5 544.15 580.3 554.35 579.95 554.7 577.65 554.7 577.3 554.35ZM585.5 541.85 593.6 529.45 593.95 529.1 596.25 529.1 596.6 529.45 596.6 531.75 588.5 544.15 588.15 544.5 585.85 544.5 585.5 544.15ZM593.6 529.45 599.9 520.05 600.25 519.7 602.55 519.7 602.9 520.05 602.9 522.35 596.6 531.75 596.25 532.1 593.95 532.1 593.6 531.75ZM599.9 520.05 607.8 510.05 608.15 509.7 610.45 509.7 610.8 510.05 610.8 512.35 602.9 522.35 602.55 522.7 600.25 522.7 599.9 522.35ZM607.8 510.05 614 503.05 614.35 502.7 616.65 502.7 617 503.05 617 505.35 610.8 512.35 610.45 512.7 608.15 512.7 607.8 512.35ZM614 503.05 614.35 502.7 622.25 494.9 624.55 494.9 624.9 495.25 624.9 497.55 624.55 497.9 616.65 505.7 614.35 505.7 614 505.35ZM621.9 495.25 622.25 494.9 631.65 487.4 633.95 487.4 634.3 487.75 634.3 490.05 633.95 490.4 624.55 497.9 622.25 497.9 621.9 497.55ZM631.3 487.75 631.65 487.4 641.05 481.5 643.35 481.5 643.7 481.85 643.7 484.15 643.35 484.5 633.95 490.4 631.65 490.4 631.3 490.05ZM640.7 481.85 641.05 481.5 650.55 477.4 652.85 477.4 653.2 477.75 653.2 480.05 652.85 480.4 643.35 484.5 641.05 484.5 640.7 484.15ZM650.2 477.75 650.55 477.4 659.95 474.7 662.25 474.7 662.6 475.05 662.6 477.35 662.25 477.7 652.85 480.4 650.55 480.4 650.2 480.05ZM659.6 475.05 659.95 474.7 669.35 471.2 671.65 471.2 672 471.55 672 473.85 671.65 474.2 662.25 477.7 659.95 477.7 659.6 477.35ZM669 471.55 669.35 471.2 678.75 468.9 681.05 468.9 681.4 469.25 681.4 471.55 681.05 471.9 671.65 474.2 669.35 474.2 669 473.85ZM678.4 469.25 678.75 468.9 691.35 468.1 693.65 468.1 694 468.45 694 470.75 693.65 471.1 681.05 471.9 678.75 471.9 678.4 471.55ZM691 468.45 691.35 468.1 707.05 467.9 709.35 467.9 709.7 468.25 709.7 470.55 709.35 470.9 693.65 471.1 691.35 471.1 691 470.75ZM706.7 468.25 707.05 467.9 722.75 465.9 725.05 465.9 725.4 466.25 725.4 468.55 725.05 468.9 709.35 470.9 707.05 470.9 706.7 470.55ZM722.4 466.25 722.75 465.9 738.45 462.1 740.75 462.1 741.1 462.45 741.1 464.75 740.75 465.1 725.05 468.9 722.75 468.9 722.4 468.55ZM738.1 462.45 738.45 462.1 751.05 458.5 753.35 458.5 753.7 458.85 753.7 461.15 753.35 461.5 740.75 465.1 738.45 465.1 738.1 464.75ZM750.7 458.85 751.05 458.5 763.65 454.5 765.95 454.5 766.3 454.85 766.3 457.15 765.95 457.5 753.35 461.5 751.05 461.5 750.7 461.15ZM763.3 454.85 763.65 454.5 774.55 451.5 776.85 451.5 777.2 451.85 777.2 454.15 776.85 454.5 765.95 457.5 763.65 457.5 763.3 457.15ZM774.2 451.85 774.55 451.5 788.75 451.1 791.05 451.1 791.4 451.45 791.4 453.75 791.05 454.1 776.85 454.5 774.55 454.5 774.2 454.15ZM788.4 451.45 788.75 451.1 799.75 449.9 802.05 449.9 802.4 450.25 802.4 452.55 802.05 452.9 791.05 454.1 788.75 454.1 788.4 453.75ZM799.4 450.25 799.75 449.9 814.55 447.8 816.85 447.8 817.2 448.15 817.2 450.45 816.85 450.8 802.05 452.9 799.75 452.9 799.4 452.55ZM814.2 448.15 814.55 447.8 830.25 446 832.55 446 832.9 446.35 832.9 448.65 832.55 449 816.85 450.8 814.55 450.8 814.2 450.45ZM829.9 446.35 830.25 446 845.95 443.9 848.25 443.9 848.6 444.25 848.6 446.55 848.25 446.9 832.55 449 830.25 449 829.9 448.65ZM845.6 444.25 845.95 443.9 861.65 441.6 863.95 441.6 864.3 441.95 864.3 444.25 863.95 444.6 848.25 446.9 845.95 446.9 845.6 446.55ZM861.3 441.95 861.65 441.6 880.55 439.7 882.85 439.7 883.2 440.05 883.2 442.35 882.85 442.7 863.95 444.6 861.65 444.6 861.3 444.25ZM880.2 440.05 880.55 439.7 893.05 437.2 895.35 437.2 895.7 437.55 895.7 439.85 895.35 440.2 882.85 442.7 880.55 442.7 880.2 442.35ZM892.7 437.55 893.05 437.2 905.65 432.9 907.95 432.9 908.3 433.25 908.3 435.55 907.95 435.9 895.35 440.2 893.05 440.2 892.7 439.85ZM905.3 433.25 905.65 432.9 918.25 427.4 920.55 427.4 920.9 427.75 920.9 430.05 920.55 430.4 907.95 435.9 905.65 435.9 905.3 435.55ZM917.9 427.75 918.25 427.4 932.35 421.5 934.65 421.5 935 421.85 935 424.15 934.65 424.5 920.55 430.4 918.25 430.4 917.9 430.05ZM932 421.85 932.35 421.5 946.45 415.7 948.75 415.7 949.1 416.05 949.1 418.35 948.75 418.7 934.65 424.5 932.35 424.5 932 424.15ZM946.1 416.05 946.45 415.7 955.95 410.9 958.25 410.9 958.6 411.25 958.6 413.55 958.25 413.9 948.75 418.7 946.45 418.7 946.1 418.35ZM955.6 411.25 955.95 410.9 963.75 406.2 966.05 406.2 966.4 406.55 966.4 408.85 966.05 409.2 958.25 413.9 955.95 413.9 955.6 413.55ZM963.4 406.55 963.75 406.2 971.65 400.7 973.95 400.7 974.3 401.05 974.3 403.35 973.95 403.7 966.05 409.2 963.75 409.2 963.4 408.85ZM971.3 401.05 971.65 400.7 979.45 396 981.75 396 982.1 396.35 982.1 398.65 981.75 399 973.95 403.7 971.65 403.7 971.3 403.35ZM979.1 396.35 979.45 396 987.35 393.7 989.65 393.7 990 394.05 990 396.35 989.65 396.7 981.75 399 979.45 399 979.1 398.65ZM987 394.05 987.35 393.7 1003.05 391 1005.35 391 1005.7 391.35 1005.7 393.65 1005.35 394 989.65 396.7 987.35 396.7 987 396.35ZM1002.7 391.35 1003.05 391 1018.75 387.4 1021.05 387.4 1021.4 387.75 1021.4 390.05 1021.05 390.4 1005.35 394 1003.05 394 1002.7 393.65ZM1018.4 387.75 1018.75 387.4 1033.95 383.6 1036.25 383.6 1036.6 383.95 1036.6 386.25 1036.25 386.6 1021.05 390.4 1018.75 390.4 1018.4 390.05ZM1033.6 383.95 1033.95 383.6 1048.15 382.3 1050.45 382.3 1050.8 382.65 1050.8 384.95 1050.45 385.3 1036.25 386.6 1033.95 386.6 1033.6 386.25ZM1047.8 382.65 1048.15 382.3 1063.85 380.7 1066.15 380.7 1066.5 381.05 1066.5 383.35 1066.15 383.7 1050.45 385.3 1048.15 385.3 1047.8 384.95ZM1063.5 381.05 1063.85 380.7 1084.25 378.5 1086.55 378.5 1086.9 378.85 1086.9 381.15 1086.55 381.5 1066.15 383.7 1063.85 383.7 1063.5 383.35ZM1083.9 378.85 1084.25 378.5 1099.95 376.5 1102.25 376.5 1102.6 376.85 1102.6 379.15 1102.25 379.5 1086.55 381.5 1084.25 381.5 1083.9 381.15ZM1099.6 376.85 1099.95 376.5 1112.55 372.6 1114.85 372.6 1115.2 372.95 1115.2 375.25 1114.85 375.6 1102.25 379.5 1099.95 379.5 1099.6 379.15ZM1112.2 372.95 1112.55 372.6 1123.55 368.6 1125.85 368.6 1126.2 368.95 1126.2 371.25 1125.85 371.6 1114.85 375.6 1112.55 375.6 1112.2 375.25ZM1123.2 368.95 1123.55 368.6 1132.95 365 1135.25 365 1135.6 365.35 1135.6 367.65 1135.25 368 1125.85 371.6 1123.55 371.6 1123.2 371.25ZM1132.6 365.35 1132.95 365 1142.35 363.4 1144.65 363.4 1145 363.75 1145 366.05 1144.65 366.4 1135.25 368 1132.95 368 1132.6 367.65ZM1142 363.75 1142.35 363.4 1158.05 362.8 1160.35 362.8 1160.7 363.15 1160.7 365.45 1160.35 365.8 1144.65 366.4 1142.35 366.4 1142 366.05ZM1157.7 363.15 1158.05 362.8 1173.75 361.9 1176.05 361.9 1176.4 362.25 1176.4 364.55 1176.05 364.9 1160.35 365.8 1158.05 365.8 1157.7 365.45ZM1173.4 362.25 1173.75 361.9 1194.15 360.8 1196.45 360.8 1196.8 361.15 1196.8 363.45 1196.45 363.8 1176.05 364.9 1173.75 364.9 1173.4 364.55ZM1193.8 361.15 1194.15 360.8 1209.85 359.2 1212.15 359.2 1212.5 359.55 1212.5 361.85 1212.15 362.2 1196.45 363.8 1194.15 363.8 1193.8 363.45ZM1209.5 359.55 1209.85 359.2 1228.75 358.7 1231.05 358.7 1231.4 359.05 1231.4 361.35 1231.05 361.7 1212.15 362.2 1209.85 362.2 1209.5 361.85ZM1228.4 359.05 1228.75 358.7 1241.25 357.7 1243.55 357.7 1243.9 358.05 1243.9 360.35 1243.55 360.7 1231.05 361.7 1228.75 361.7 1228.4 361.35ZM1240.9 358.05 1241.25 357.7 1251.45 356.1 1253.75 356.1 1254.1 356.45 1254.1 358.75 1253.75 359.1 1243.55 360.7 1241.25 360.7 1240.9 360.35ZM1251.1 356.45 1251.45 356.1 1263.95 353.8 1266.25 353.8 1266.6 354.15 1266.6 356.45 1266.25 356.8 1253.75 359.1 1251.45 359.1 1251.1 358.75ZM1263.6 354.15 1263.95 353.8 1271.85 351.1 1274.15 351.1 1274.5 351.45 1274.5 353.75 1274.15 354.1 1266.25 356.8 1263.95 356.8 1263.6 356.45ZM1271.5 351.45 1271.85 351.1 1278.95 346.7 1281.25 346.7 1281.6 347.05 1281.6 349.35 1281.25 349.7 1274.15 354.1 1271.85 354.1 1271.5 353.75ZM1278.6 347.05 1285.6 339.95 1285.95 339.6 1288.25 339.6 1288.6 339.95 1288.6 342.25 1281.6 349.35 1281.25 349.7 1278.95 349.7 1278.6 349.35ZM1285.6 339.95 1293.5 331.3 1293.85 330.95 1296.15 330.95 1296.5 331.3 1296.5 333.6 1288.6 342.25 1288.25 342.6 1285.95 342.6 1285.6 342.25ZM1293.5 331.3 1301.3 322.52 1301.65 322.17 1303.95 322.17 1304.3 322.52 1304.3 324.82 1296.5 333.6 1296.15 333.95 1293.85 333.95 1293.5 333.6ZM1301.3 322.52 1307.6 313.86 1307.95 313.51 1310.25 313.51 1310.6 313.86 1310.6 316.16 1304.3 324.82 1303.95 325.17 1301.65 325.17 1301.3 324.82ZM1307.6 313.86 1315.5 304.38 1315.85 304.03 1318.15 304.03 1318.5 304.38 1318.5 306.68 1310.6 316.16 1310.25 316.51 1307.95 316.51 1307.6 316.16ZM1315.5 304.38 1323.3 296.4 1323.65 296.05 1325.95 296.05 1326.3 296.4 1326.3 298.7 1318.5 306.68 1318.15 307.03 1315.85 307.03 1315.5 306.68ZM1323.3 296.4 1323.65 296.05 1331.55 289 1333.85 289 1334.2 289.35 1334.2 291.65 1333.85 292 1325.95 299.05 1323.65 299.05 1323.3 298.7ZM1331.2 289.35 1339 281.45 1339.35 281.1 1341.65 281.1 1342 281.45 1342 283.75 1334.2 291.65 1333.85 292 1331.55 292 1331.2 291.65ZM1339 281.45 1339.35 281.1 1347.25 273.3 1349.55 273.3 1349.9 273.65 1349.9 275.95 1349.55 276.3 1341.65 284.1 1339.35 284.1 1339 283.75ZM1346.9 273.65 1354.7 263.51 1355.05 263.16 1357.35 263.16 1357.7 263.51 1357.7 265.81 1349.9 275.95 1349.55 276.3 1347.25 276.3 1346.9 275.95ZM1354.7 263.51 1362.6 253.63 1362.95 253.28 1365.25 253.28 1365.6 253.63 1365.6 255.93 1357.7 265.81 1357.35 266.16 1355.05 266.16 1354.7 265.81ZM1362.6 253.63 1368.9 245.37 1369.25 245.02 1371.55 245.02 1371.9 245.37 1371.9 247.67 1365.6 255.93 1365.25 256.28 1362.95 256.28 1362.6 255.93ZM1368.9 245.37 1375 237.91 1375.35 237.56 1377.65 237.56 1378 237.91 1378 240.21 1371.9 247.67 1371.55 248.02 1369.25 248.02 1368.9 247.67ZM1375 237.91 1380.3 231.89 1380.65 231.54 1382.95 231.54 1383.3 231.89 1383.3 234.19 1378 240.21 1377.65 240.56 1375.35 240.56 1375 240.21ZM1380.3 231.89 1380.65 231.54 1386.95 225.33 1389.25 225.33 1389.6 225.68 1389.6 227.98 1389.25 228.33 1382.95 234.54 1380.65 234.54 1380.3 234.19ZM1386.6 225.68 1386.95 225.33 1394.25 219.13 1396.55 219.13 1396.9 219.48 1396.9 221.78 1396.55 222.13 1389.25 228.33 1386.95 228.33 1386.6 227.98ZM1393.9 219.48 1394.25 219.13 1401.55 213.99 1403.85 213.99 1404.2 214.34 1404.2 216.64 1403.85 216.99 1396.55 222.13 1394.25 222.13 1393.9 221.78ZM1401.2 214.34 1401.55 213.99 1408.95 208.77 1411.25 208.77 1411.6 209.12 1411.6 211.42 1411.25 211.77 1403.85 216.99 1401.55 216.99 1401.2 216.64ZM1408.6 209.12 1408.95 208.77 1416.25 205.06 1418.55 205.06 1418.9 205.41 1418.9 207.71 1418.55 208.06 1411.25 211.77 1408.95 211.77 1408.6 211.42ZM1415.9 205.41 1416.25 205.06 1423.55 202.94 1425.85 202.94 1426.2 203.29 1426.2 205.59 1425.85 205.94 1418.55 208.06 1416.25 208.06 1415.9 207.71ZM1423.2 203.29 1423.55 202.94 1430.85 199.82 1433.15 199.82 1433.5 200.17 1433.5 202.47 1433.15 202.82 1425.85 205.94 1423.55 205.94 1423.2 205.59ZM1430.5 200.17 1430.85 199.82 1438.25 196.6 1440.55 196.6 1440.9 196.95 1440.9 199.25 1440.55 199.6 1433.15 202.82 1430.85 202.82 1430.5 202.47ZM1437.9 196.95 1438.25 196.6 1445.55 193.73 1447.85 193.73 1448.2 194.08 1448.2 196.38 1447.85 196.73 1440.55 199.6 1438.25 199.6 1437.9 199.25ZM1445.2 194.08 1445.55 193.73 1452.85 190.84 1455.15 190.84 1455.5 191.19 1455.5 193.49 1455.15 193.84 1447.85 196.73 1445.55 196.73 1445.2 196.38ZM1452.5 191.19 1452.85 190.84 1460.25 188.95 1462.55 188.95 1462.9 189.3 1462.9 191.6 1462.55 191.95 1455.15 193.84 1452.85 193.84 1452.5 193.49ZM1459.9 189.3 1460.25 188.95 1465.45 188.26 1467.75 188.26 1468.1 188.61 1468.1 190.91 1467.75 191.26 1462.55 191.95 1460.25 191.95 1459.9 191.6ZM1465.1 188.61 1465.45 188.26 1470.65 187.9 1472.95 187.9 1473.3 188.25 1473.3 190.55 1472.95 190.9 1467.75 191.26 1465.45 191.26 1465.1 190.91Z"/>
<path fill="#00ff00" d="M114.4 1146.95 114.75 1146.6 120.45 1143.6 122.75 1143.6 123.1 1143.95 123.1 1146.25 122.75 1146.6 117.05 1149.6 114.75 1149.6 114.4 1149.25ZM120.1 1143.95 127 1132.35 127.35 1132 129.65 1132 130 1132.35 130 1134.65 123.1 1146.25 122.75 1146.6 120.45 1146.6 120.1 1146.25ZM127 1132.35 131.6 1120.05 131.95 1119.7 134.25 1119.7 134.6 1120.05 134.6 1122.35 130 1134.65 129.65 1135 127.35 1135 127 1134.65ZM131.6 1120.05 136.3 1109.25 136.65 1108.9 138.95 1108.9 139.3 1109.25 139.3 1111.55 134.6 1122.35 134.25 1122.7 131.95 1122.7 131.6 1122.35ZM136.3 1109.25 138.6 1095.35 138.95 1095 141.25 1095 141.6 1095.35 141.6 1097.65 139.3 1111.55 138.95 1111.9 136.65 1111.9 136.3 1111.55ZM138.6 1095.35 141.7 1086.05 142.05 1085.7 144.35 1085.7 144.7 1086.05 144.7 1088.35 141.6 1097.65 141.25 1098 138.95 1098 138.6 1097.65ZM141.7 1086.05 144.3 1075.25 144.65 1074.9 146.95 1074.9 147.3 1075.25 147.3 1077.55 144.7 1088.35 144.35 1088.7 142.05 1088.7 141.7 1088.35ZM144.3 1075.25 146.3 1062.95 146.65 1062.6 148.95 1062.6 149.3 1062.95 149.3 1065.25 147.3 1077.55 146.95 1077.9 144.65 1077.9 144.3 1077.55ZM146.3 1062.95 149.4 1055.25 149.75 1054.9 152.05 1054.9 152.4 1055.25 152.4 1057.55 149.3 1065.25 148.95 1065.6 146.65 1065.6 146.3 1065.25ZM149.4 1055.25 151.4 1044.45 151.75 1044.1 154.05 1044.1 154.4 1044.45 154.4 1046.75 152.4 1057.55 152.05 1057.9 149.75 1057.9 149.4 1057.55ZM151.4 1044.45 153.2 1032.15 153.55 1031.8 155.85 1031.8 156.2 1032.15 156.2 1034.45 154.4 1046.75 154.05 1047.1 151.75 1047.1 151.4 1046.75ZM153.2 1032.15 156.6 1024.45 156.95 1024.1 159.25 1024.1 159.6 1024.45 159.6 1026.75 156.2 1034.45 155.85 1034.8 153.55 1034.8 153.2 1034.45ZM156.6 1024.45 159.4 1010.55 159.75 1010.2 162.05 1010.2 162.4 1010.55 162.4 1012.85 159.6 1026.75 159.25 1027.1 156.95 1027.1 156.6 1026.75ZM159.4 1010.55 161.7 1002.05 162.05 1001.7 164.35 1001.7 164.7 1002.05 164.7 1004.35 162.4 1012.85 162.05 1013.2 159.75 1013.2 159.4 1012.85ZM161.7 1002.05 164.8 993.55 165.15 993.2 167.45 993.2 167.8 993.55 167.8 995.85 164.7 1004.35 164.35 1004.7 162.05 1004.7 161.7 1004.35ZM164.8 993.55 166.8 982.75 167.15 982.4 169.45 982.4 169.8 982.75 169.8 985.05 167.8 995.85 167.45 996.2 165.15 996.2 164.8 995.85ZM166.8 982.75 169.4 975.85 169.75 975.5 172.05 975.5 172.4 975.85 172.4 978.15 169.8 985.05 169.45 985.4 167.15 985.4 166.8 985.05ZM169.4 975.85 171.7 967.35 172.05 967 174.35 967 174.7 967.35 174.7 969.65 172.4 978.15 172.05 978.5 169.75 978.5 169.4 978.15ZM171.7 967.35 174 959.65 174.35 959.3 176.65 959.3 177 959.65 177 961.95 174.7 969.65 174.35 970 172.05 970 171.7 969.65ZM174 959.65 176.7 953.85 177.05 953.5 179.35 953.5 179.7 953.85 179.7 956.15 177 961.95 176.65 962.3 174.35 962.3 174 961.95ZM176.7 953.85 181 939.25 181.35 938.9 183.65 938.9 184 939.25 184 941.55 179.7 956.15 179.35 956.5 177.05 956.5 176.7 956.15ZM181 939.25 186.4 925.35 186.75 925 189.05 925 189.4 925.35 189.4 927.65 184 941.55 183.65 941.9 181.35 941.9 181 941.55ZM186.4 925.35 191.8 908.45 192.15 908.1 194.45 908.1 194.8 908.45 194.8 910.75 189.4 927.65 189.05 928 186.75 928 186.4 927.65ZM191.8 908.45 198.7 896.05 199.05 895.7 201.35 895.7 201.7 896.05 201.7 898.35 194.8 910.75 194.45 911.1 192.15 911.1 191.8 910.75ZM198.7 896.05 201.8 880.65 202.15 880.3 204.45 880.3 204.8 880.65 204.8 882.95 201.7 898.35 201.35 898.7 199.05 898.7 198.7 898.35ZM201.8 880.65 207.2 865.25 207.55 864.9 209.85 864.9 210.2 865.25 210.2 867.55 204.8 882.95 204.45 883.3 202.15 883.3 201.8 882.95ZM207.2 865.25 210.38 849.85 210.73 849.5 213.03 849.5 213.38 849.85 213.38 852.15 210.2 867.55 209.85 867.9 207.55 867.9 207.2 867.55ZM210.38 849.85 215.1 835.95 215.45 835.6 217.75 835.6 218.1 835.95 218.1 838.25 213.38 852.15 213.03 852.5 210.73 852.5 210.38 852.15ZM215.1 835.95 219.02 822.05 219.37 821.7 221.67 821.7 222.02 822.05 222.02 824.35 218.1 838.25 217.75 838.6 215.45 838.6 215.1 838.25ZM219.02 822.05 223.85 806.65 224.2 806.3 226.5 806.3 226.85 806.65 226.85 808.95 222.02 824.35 221.67 824.7 219.37 824.7 219.02 824.35ZM223.85 806.65 228.54 795.85 228.89 795.5 231.19 795.5 231.54 795.85 231.54 798.15 226.85 808.95 226.5 809.3 224.2 809.3 223.85 808.95ZM228.54 795.85 230.92 786.05 231.27 785.7 233.57 785.7 233.92 786.05 233.92 788.35 231.54 798.15 231.19 798.5 228.89 798.5 228.54 798.15ZM230.92 786.05 235.98 777.85 236.33 777.5 238.63 777.5 238.98 777.85 238.98 780.15 233.92 788.35 233.57 788.7 231.27 788.7 230.92 788.35ZM235.98 777.85 238.65 768.35 239 768 241.3 768 241.65 768.35 241.65 770.65 238.98 780.15 238.63 780.5 236.33 780.5 235.98 780.15ZM238.65 768.35 243.3 760.75 243.65 760.4 245.95 760.4 246.3 760.75 246.3 763.05 241.65 770.65 241.3 771 239 771 238.65 770.65ZM243.3 760.75 246.47 751.45 246.82 751.1 249.12 751.1 249.47 751.45 249.47 753.75 246.3 763.05 245.95 763.4 243.65 763.4 243.3 763.05ZM246.47 751.45 251.22 744.55 251.57 744.2 253.87 744.2 254.22 744.55 254.22 746.85 249.47 753.75 249.12 754.1 246.82 754.1 246.47 753.75ZM251.22 744.55 255.07 737.65 255.42 737.3 257.72 737.3 258.07 737.65 258.07 739.95 254.22 746.85 253.87 747.2 251.57 747.2 251.22 746.85ZM255.07 737.65 259.72 729.95 260.07 729.6 262.37 729.6 262.72 729.95 262.72 732.25 258.07 739.95 257.72 740.3 255.42 740.3 255.07 739.95ZM259.72 729.95 264.48 722.15 264.83 721.8 267.13 721.8 267.48 722.15 267.48 724.45 262.72 732.25 262.37 732.6 260.07 732.6 259.72 732.25ZM264.48 722.15 269.89 714.45 270.24 714.1 272.54 714.1 272.89 714.45 272.89 716.75 267.48 724.45 267.13 724.8 264.83 724.8 264.48 724.45ZM269.89 714.45 273.67 708.35 274.02 708 276.32 708 276.67 708.35 276.67 710.65 272.89 716.75 272.54 717.1 270.24 717.1 269.89 716.75ZM273.67 708.35 274.02 708 279.4 703.3 281.7 703.3 282.05 703.65 282.05 705.95 281.7 706.3 276.32 711 274.02 711 273.67 710.65ZM279.05 703.65 283.62 695.25 283.97 694.9 286.27 694.9 286.62 695.25 286.62 697.55 282.05 705.95 281.7 706.3 279.4 706.3 279.05 705.95ZM283.62 695.25 289 687.55 289.35 687.2 291.65 687.2 292 687.55 292 689.85 286.62 697.55 286.27 697.9 283.97 697.9 283.62 697.55ZM289 687.55 295.97 679.05 296.32 678.7 298.62 678.7 298.97 679.05 298.97 681.35 292 689.85 291.65 690.2 289.35 690.2 289 689.85ZM295.97 679.05 303.64 669.75 303.99 669.4 306.29 669.4 306.64 669.75 306.64 672.05 298.97 681.35 298.62 681.7 296.32 681.7 295.97 681.35ZM303.64 669.75 309.71 662.05 310.06 661.7 312.36 661.7 312.71 662.05 312.71 664.35 306.64 672.05 306.29 672.4 303.99 672.4 303.64 672.05ZM309.71 662.05 315.84 655.15 316.19 654.8 318.49 654.8 318.84 655.15 318.84 657.45 312.71 664.35 312.36 664.7 310.06 664.7 309.71 664.35ZM315.84 655.15 323.4 647.45 323.75 647.1 326.05 647.1 326.4 647.45 326.4 649.75 318.84 657.45 318.49 657.8 316.19 657.8 315.84 657.45ZM323.4 647.45 323.75 647.1 331.33 640.11 333.63 640.11 333.98 640.46 333.98 642.76 333.63 643.11 326.05 650.1 323.75 650.1 323.4 649.75ZM330.98 640.46 331.33 640.11 338.93 634.76 341.23 634.76 341.58 635.11 341.58 637.41 341.23 637.76 333.63 643.11 331.33 643.11 330.98 642.76ZM338.58 635.11 338.93 634.76 348.17 631.01 350.47 631.01 350.82 631.36 350.82 633.66 350.47 634.01 341.23 637.76 338.93 637.76 338.58 637.41ZM347.82 631.36 348.17 631.01 357.33 628.76 359.63 628.76 359.98 629.11 359.98 631.41 359.63 631.76 350.47 634.01 348.17 634.01 347.82 633.66ZM356.98 629.11 357.33 628.76 371.78 625.95 374.08 625.95 374.43 626.3 374.43 628.6 374.08 628.95 359.63 631.76 357.33 631.76 356.98 631.41ZM371.43 626.3 371.78 625.95 387.15 623.93 389.45 623.93 389.8 624.28 389.8 626.58 389.45 626.93 374.08 628.95 371.78 628.95 371.43 628.6ZM386.8 624.28 387.15 623.93 401.25 622.9 403.55 622.9 403.9 623.25 403.9 625.55 403.55 625.9 389.45 626.93 387.15 626.93 386.8 626.58ZM400.9 623.25 401.25 622.9 413.85 620.3 416.15 620.3 416.5 620.65 416.5 622.95 416.15 623.3 403.55 625.9 401.25 625.9 400.9 625.55ZM413.5 620.65 413.85 620.3 424.85 617.4 427.15 617.4 427.5 617.75 427.5 620.05 427.15 620.4 416.15 623.3 413.85 623.3 413.5 622.95ZM424.5 617.75 424.85 617.4 435.85 613.5 438.15 613.5 438.5 613.85 438.5 616.15 438.15 616.5 427.15 620.4 424.85 620.4 424.5 620.05ZM435.5 613.85 435.85 613.5 444.45 611.5 446.75 611.5 447.1 611.85 447.1 614.15 446.75 614.5 438.15 616.5 435.85 616.5 435.5 616.15ZM444.1 611.85 444.45 611.5 460.95 610.4 463.25 610.4 463.6 610.75 463.6 613.05 463.25 613.4 446.75 614.5 444.45 614.5 444.1 614.15ZM460.6 610.75 460.95 610.4 481.35 608.8 483.65 608.8 484 609.15 484 611.45 483.65 611.8 463.25 613.4 460.95 613.4 460.6 613.05ZM481 609.15 481.35 608.8 492.35 607.2 494.65 607.2 495 607.55 495 609.85 494.65 610.2 483.65 611.8 481.35 611.8 481 611.45ZM492 607.55 492.35 607.2 504.95 603.3 507.25 603.3 507.6 603.65 507.6 605.95 507.25 606.3 494.65 610.2 492.35 610.2 492 609.85ZM504.6 603.65 504.95 603.3 514.35 598.6 516.65 598.6 517 598.95 517 601.25 516.65 601.6 507.25 606.3 504.95 606.3 504.6 605.95ZM514 598.95 514.35 598.6 523.75 592.3 526.05 592.3 526.4 592.65 526.4 594.95 526.05 595.3 516.65 601.6 514.35 601.6 514 601.25ZM523.4 592.65 523.75 592.3 533.15 586 535.45 586 535.8 586.35 535.8 588.65 535.45 589 526.05 595.3 523.75 595.3 523.4 594.95ZM532.8 586.35 533.15 586 542.65 580.5 544.95 580.5 545.3 580.85 545.3 583.15 544.95 583.5 535.45 589 533.15 589 532.8 588.65ZM542.3 580.85 542.65 580.5 555.15 575 557.45 575 557.8 575.35 557.8 577.65 557.45 578 544.95 583.5 542.65 583.5 542.3 583.15ZM554.8 575.35 555.15 575 563.05 570.3 565.35 570.3 565.7 570.65 565.7 572.95 565.35 573.3 557.45 578 555.15 578 554.8 577.65ZM562.7 570.65 563.05 570.3 569.85 563.5 572.15 563.5 572.5 563.85 572.5 566.15 565.7 572.95 565.35 573.3 563.05 573.3 562.7 572.95ZM569.5 563.85 578.1 554.55 578.45 554.2 580.75 554.2 581.1 554.55 581.1 556.85 572.5 566.15 572.15 566.5 569.85 566.5 569.5 566.15ZM578.1 554.55 585.8 543.95 586.15 543.6 588.45 543.6 588.8 543.95 588.8 546.25 581.1 556.85 580.75 557.2 578.45 557.2 578.1 556.85ZM585.8 543.95 593.6 531.35 593.95 531 596.25 531 596.6 531.35 596.6 533.65 588.8 546.25 588.45 546.6 586.15 546.6 585.8 546.25ZM593.6 531.35 599.9 521.95 600.25 521.6 602.55 521.6 602.9 521.95 602.9 524.25 596.6 533.65 596.25 534 593.95 534 593.6 533.65ZM599.9 521.95 607.8 511.75 608.15 511.4 610.45 511.4 610.8 511.75 610.8 514.05 602.9 524.25 602.55 524.6 600.25 524.6 599.9 524.25ZM607.8 511.75 614 504.65 614.35 504.3 616.65 504.3 617 504.65 617 506.95 610.8 514.05 610.45 514.4 608.15 514.4 607.8 514.05ZM614 504.65 622.25 496.4 624.55 496.4 624.9 496.75 624.9 499.05 616.65 507.3 614.35 507.3 614 506.95ZM621.9 496.75 622.25 496.4 631.65 488.6 633.95 488.6 634.3 488.95 634.3 491.25 633.95 491.6 624.55 499.4 622.25 499.4 621.9 499.05ZM631.3 488.95 631.65 488.6 641.05 482.3 643.35 482.3 643.7 482.65 643.7 484.95 643.35 485.3 633.95 491.6 631.65 491.6 631.3 491.25ZM640.7 482.65 641.05 482.3 650.55 477.6 652.85 477.6 653.2 477.95 653.2 480.25 652.85 480.6 643.35 485.3 641.05 485.3 640.7 484.95ZM650.2 477.95 650.55 477.6 659.95 474.1 662.25 474.1 662.6 474.45 662.6 476.75 662.25 477.1 652.85 480.6 650.55 480.6 650.2 480.25ZM659.6 474.45 659.95 474.1 669.35 470 671.65 470 672 470.35 672 472.65 671.65 473 662.25 477.1 659.95 477.1 659.6 476.75ZM669 470.35 669.35 470 678.75 467.4 681.05 467.4 681.4 467.75 681.4 470.05 681.05 470.4 671.65 473 669.35 473 669 472.65ZM678.4 467.75 678.75 467.4 691.35 466.3 693.65 466.3 694 466.65 694 468.95 693.65 469.3 681.05 470.4 678.75 470.4 678.4 470.05ZM691 466.65 691.35 466.3 707.05 466 709.35 466 709.7 466.35 709.7 468.65 709.35 469 693.65 469.3 691.35 469.3 691 468.95ZM706.7 466.35 707.05 466 722.75 463.8 725.05 463.8 725.4 464.15 725.4 466.45 725.05 466.8 709.35 469 707.05 469 706.7 468.65ZM722.4 464.15 722.75 463.8 738.45 460 740.75 460 741.1 460.35 741.1 462.65 740.75 463 725.05 466.8 722.75 466.8 722.4 466.45ZM738.1 460.35 738.45 460 751.05 456.4 753.35 456.4 753.7 456.75 753.7 459.05 753.35 459.4 740.75 463 738.45 463 738.1 462.65ZM750.7 456.75 751.05 456.4 763.65 452.5 765.95 452.5 766.3 452.85 766.3 455.15 765.95 455.5 753.35 459.4 751.05 459.4 750.7 459.05ZM763.3 452.85 763.65 452.5 774.55 449.6 776.85 449.6 777.2 449.95 777.2 452.25 776.85 452.6 765.95 455.5 763.65 455.5 763.3 455.15ZM774.2 449.95 774.55 449.6 788.75 449.3 791.05 449.3 791.4 449.65 791.4 451.95 791.05 452.3 776.85 452.6 774.55 452.6 774.2 452.25ZM788.4 449.65 788.75 449.3 799.75 447.9 802.05 447.9 802.4 448.25 802.4 450.55 802.05 450.9 791.05 452.3 788.75 452.3 788.4 451.95ZM799.4 448.25 799.75 447.9 814.55 445.5 816.85 445.5 817.2 445.85 817.2 448.15 816.85 448.5 802.05 450.9 799.75 450.9 799.4 450.55ZM814.2 445.85 814.55 445.5 830.25 443.9 832.55 443.9 832.9 444.25 832.9 446.55 832.55 446.9 816.85 448.5 814.55 448.5 814.2 448.15ZM829.9 444.25 830.25 443.9 845.95 441.6 848.25 441.6 848.6 441.95 848.6 444.25 848.25 444.6 832.55 446.9 830.25 446.9 829.9 446.55ZM845.6 441.95 845.95 441.6 861.65 439.2 863.95 439.2 864.3 439.55 864.3 441.85 863.95 442.2 848.25 444.6 845.95 444.6 845.6 444.25ZM861.3 439.55 861.65 439.2 880.55 437.6 882.85 437.6 883.2 437.95 883.2 440.25 882.85 440.6 863.95 442.2 861.65 442.2 861.3 441.85ZM880.2 437.95 880.55 437.6 893.05 435.6 895.35 435.6 895.7 435.95 895.7 438.25 895.35 438.6 882.85 440.6 880.55 440.6 880.2 440.25ZM892.7 435.95 893.05 435.6 905.65 431.4 907.95 431.4 908.3 431.75 908.3 434.05 907.95 434.4 895.35 438.6 893.05 438.6 892.7 438.25ZM905.3 431.75 905.65 431.4 918.25 425.9 920.55 425.9 920.9 426.25 920.9 428.55 920.55 428.9 907.95 434.4 905.65 434.4 905.3 434.05ZM917.9 426.25 918.25 425.9 932.35 419.6 934.65 419.6 935 419.95 935 422.25 934.65 422.6 920.55 428.9 918.25 428.9 917.9 428.55ZM932 419.95 932.35 419.6 941.75 414.1 944.05 414.1 944.4 414.45 944.4 416.75 944.05 417.1 934.65 422.6 932.35 422.6 932 422.25ZM941.4 414.45 948.05 407.8 950.35 407.8 950.7 408.15 950.7 410.45 950.35 410.8 944.05 417.1 941.75 417.1 941.4 416.75ZM947.7 408.15 954 401.05 954.35 400.7 956.65 400.7 957 401.05 957 403.35 950.7 410.45 950.35 410.8 948.05 410.8 947.7 410.45ZM954 401.05 961.1 393.25 961.45 392.9 963.75 392.9 964.1 393.25 964.1 395.55 957 403.35 956.65 403.7 954.35 403.7 954 403.35ZM961.1 393.25 968.1 386.15 968.45 385.8 970.75 385.8 971.1 386.15 971.1 388.45 964.1 395.55 963.75 395.9 961.45 395.9 961.1 395.55ZM968.1 386.15 976 376.75 976.35 376.4 978.65 376.4 979 376.75 979 379.05 971.1 388.45 970.75 388.8 968.45 388.8 968.1 388.45ZM976 376.75 976.35 376.4 984.15 369.3 986.45 369.3 986.8 369.65 986.8 371.95 986.45 372.3 978.65 379.4 976.35 379.4 976 379.05ZM983.8 369.65 984.15 369.3 992.05 363.8 994.35 363.8 994.7 364.15 994.7 366.45 994.35 366.8 986.45 372.3 984.15 372.3 983.8 371.95ZM991.7 364.15 992.05 363.8 1003.05 359.1 1005.35 359.1 1005.7 359.45 1005.7 361.75 1005.35 362.1 994.35 366.8 992.05 366.8 991.7 366.45ZM1002.7 359.45 1003.05 359.1 1010.85 356.1 1013.15 356.1 1013.5 356.45 1013.5 358.75 1013.15 359.1 1005.35 362.1 1003.05 362.1 1002.7 361.75ZM1010.5 356.45 1010.85 356.1 1018.25 352.9 1020.55 352.9 1020.9 353.25 1020.9 355.55 1020.55 355.9 1013.15 359.1 1010.85 359.1 1010.5 358.75ZM1017.9 353.25 1018.25 352.9 1027.65 347.4 1029.95 347.4 1030.3 347.75 1030.3 350.05 1029.95 350.4 1020.55 355.9 1018.25 355.9 1017.9 355.55ZM1027.3 347.75 1027.65 347.4 1037.15 343 1039.45 343 1039.8 343.35 1039.8 345.65 1039.45 346 1029.95 350.4 1027.65 350.4 1027.3 350.05ZM1036.8 343.35 1037.15 343 1044.95 340.8 1047.25 340.8 1047.6 341.15 1047.6 343.45 1047.25 343.8 1039.45 346 1037.15 346 1036.8 345.65ZM1044.6 341.15 1044.95 340.8 1059.15 338.8 1061.45 338.8 1061.8 339.15 1061.8 341.45 1061.45 341.8 1047.25 343.8 1044.95 343.8 1044.6 343.45ZM1058.8 339.15 1059.15 338.8 1071.65 337.5 1073.95 337.5 1074.3 337.85 1074.3 340.15 1073.95 340.5 1061.45 341.8 1059.15 341.8 1058.8 341.45ZM1071.3 337.85 1071.65 337.5 1085.85 336.7 1088.15 336.7 1088.5 337.05 1088.5 339.35 1088.15 339.7 1073.95 340.5 1071.65 340.5 1071.3 340.15ZM1085.5 337.05 1085.85 336.7 1098.35 334.9 1100.65 334.9 1101 335.25 1101 337.55 1100.65 337.9 1088.15 339.7 1085.85 339.7 1085.5 339.35ZM1098 335.25 1098.35 334.9 1109.35 332 1111.65 332 1112 332.35 1112 334.65 1111.65 335 1100.65 337.9 1098.35 337.9 1098 337.55ZM1109 332.35 1109.35 332 1121.95 327.8 1124.25 327.8 1124.6 328.15 1124.6 330.45 1124.25 330.8 1111.65 335 1109.35 335 1109 334.65ZM1121.6 328.15 1121.95 327.8 1132.95 323.9 1135.25 323.9 1135.6 324.25 1135.6 326.55 1135.25 326.9 1124.25 330.8 1121.95 330.8 1121.6 330.45ZM1132.6 324.25 1132.95 323.9 1142.35 322.3 1144.65 322.3 1145 322.65 1145 324.95 1144.65 325.3 1135.25 326.9 1132.95 326.9 1132.6 326.55ZM1142 322.65 1142.35 322.3 1154.95 321.5 1157.25 321.5 1157.6 321.85 1157.6 324.15 1157.25 324.5 1144.65 325.3 1142.35 325.3 1142 324.95ZM1154.6 321.85 1154.95 321.5 1167.45 320.4 1169.75 320.4 1170.1 320.75 1170.1 323.05 1169.75 323.4 1157.25 324.5 1154.95 324.5 1154.6 324.15ZM1167.1 320.75 1167.45 320.4 1181.65 319.2 1183.95 319.2 1184.3 319.55 1184.3 321.85 1183.95 322.2 1169.75 323.4 1167.45 323.4 1167.1 323.05ZM1181.3 319.55 1181.65 319.2 1195.75 318.8 1198.05 318.8 1198.4 319.15 1198.4 321.45 1198.05 321.8 1183.95 322.2 1181.65 322.2 1181.3 321.85ZM1195.4 319.15 1195.75 318.8 1213.05 316.8 1215.35 316.8 1215.7 317.15 1215.7 319.45 1215.35 319.8 1198.05 321.8 1195.75 321.8 1195.4 321.45ZM1212.7 317.15 1213.05 316.8 1228.75 316 1231.05 316 1231.4 316.35 1231.4 318.65 1231.05 319 1215.35 319.8 1213.05 319.8 1212.7 319.45ZM1228.4 316.35 1228.75 316 1239.35 314.5 1241.65 314.5 1242 314.85 1242 317.15 1241.65 317.5 1231.05 319 1228.75 319 1228.4 318.65ZM1239 314.85 1239.35 314.5 1251.45 312.9 1253.75 312.9 1254.1 313.25 1254.1 315.55 1253.75 315.9 1241.65 317.5 1239.35 317.5 1239 317.15ZM1251.1 313.25 1251.45 312.9 1263.95 310.3 1266.25 310.3 1266.6 310.65 1266.6 312.95 1266.25 313.3 1253.75 315.9 1251.45 315.9 1251.1 315.55ZM1263.6 310.65 1263.95 310.3 1273.45 306.6 1275.75 306.6 1276.1 306.95 1276.1 309.25 1275.75 309.6 1266.25 313.3 1263.95 313.3 1263.6 312.95ZM1273.1 306.95 1273.45 306.6 1281.25 301.5 1283.55 301.5 1283.9 301.85 1283.9 304.15 1283.55 304.5 1275.75 309.6 1273.45 309.6 1273.1 309.25ZM1280.9 301.85 1281.25 301.5 1289.15 294.1 1291.45 294.1 1291.8 294.45 1291.8 296.75 1291.45 297.1 1283.55 304.5 1281.25 304.5 1280.9 304.15ZM1288.8 294.45 1296.6 285.67 1296.95 285.32 1299.25 285.32 1299.6 285.67 1299.6 287.97 1291.8 296.75 1291.45 297.1 1289.15 297.1 1288.8 296.75ZM1296.6 285.67 1304.5 274.59 1304.85 274.24 1307.15 274.24 1307.5 274.59 1307.5 276.89 1299.6 287.97 1299.25 288.32 1296.95 288.32 1296.6 287.97ZM1304.5 274.59 1312.3 265.91 1312.65 265.56 1314.95 265.56 1315.3 265.91 1315.3 268.21 1307.5 276.89 1307.15 277.24 1304.85 277.24 1304.5 276.89ZM1312.3 265.91 1320.2 257.23 1320.55 256.88 1322.85 256.88 1323.2 257.23 1323.2 259.53 1315.3 268.21 1314.95 268.56 1312.65 268.56 1312.3 268.21ZM1320.2 257.23 1329.6 246.46 1329.95 246.11 1332.25 246.11 1332.6 246.46 1332.6 248.76 1323.2 259.53 1322.85 259.88 1320.55 259.88 1320.2 259.53ZM1329.6 246.46 1336.5 239.5 1336.85 239.15 1339.15 239.15 1339.5 239.5 1339.5 241.8 1332.6 248.76 1332.25 249.11 1329.95 249.11 1329.6 248.76ZM1336.5 239.5 1341.5 233.85 1341.85 233.5 1344.15 233.5 1344.5 233.85 1344.5 236.15 1339.5 241.8 1339.15 242.15 1336.85 242.15 1336.5 241.8ZM1341.5 233.85 1349.9 224.02 1350.25 223.67 1352.55 223.67 1352.9 224.02 1352.9 226.32 1344.5 236.15 1344.15 236.5 1341.85 236.5 1341.5 236.15ZM1349.9 224.02 1357.2 213.71 1357.55 213.36 1359.85 213.36 1360.2 213.71 1360.2 216.01 1352.9 226.32 1352.55 226.67 1350.25 226.67 1349.9 226.32ZM1357.2 213.71 1364.6 204.29 1364.95 203.94 1367.25 203.94 1367.6 204.29 1367.6 206.59 1360.2 216.01 1359.85 216.36 1357.55 216.36 1357.2 216.01ZM1364.6 204.29 1370.9 195.46 1371.25 195.11 1373.55 195.11 1373.9 195.46 1373.9 197.76 1367.6 206.59 1367.25 206.94 1364.95 206.94 1364.6 206.59ZM1370.9 195.46 1378.2 186.65 1378.55 186.3 1380.85 186.3 1381.2 186.65 1381.2 188.95 1373.9 197.76 1373.55 198.11 1371.25 198.11 1370.9 197.76ZM1378.2 186.65 1385.5 179.34 1385.85 178.99 1388.15 178.99 1388.5 179.34 1388.5 181.64 1381.2 188.95 1380.85 189.3 1378.55 189.3 1378.2 188.95ZM1385.5 179.34 1385.85 178.99 1394.25 171.67 1396.55 171.67 1396.9 172.02 1396.9 174.32 1396.55 174.67 1388.15 181.99 1385.85 181.99 1385.5 181.64ZM1393.9 172.02 1394.25 171.67 1402.65 164.36 1404.95 164.36 1405.3 164.71 1405.3 167.01 1404.95 167.36 1396.55 174.67 1394.25 174.67 1393.9 174.32ZM1402.3 164.71 1402.65 164.36 1409.95 158.55 1412.25 158.55 1412.6 158.9 1412.6 161.2 1412.25 161.55 1404.95 167.36 1402.65 167.36 1402.3 167.01ZM1409.6 158.9 1409.95 158.55 1417.25 153.84 1419.55 153.84 1419.9 154.19 1419.9 156.49 1419.55 156.84 1412.25 161.55 1409.95 161.55 1409.6 161.2ZM1416.9 154.19 1417.25 153.84 1425.65 150.12 1427.95 150.12 1428.3 150.47 1428.3 152.77 1427.95 153.12 1419.55 156.84 1417.25 156.84 1416.9 156.49ZM1425.3 150.47 1425.65 150.12 1434.05 147.01 1436.35 147.01 1436.7 147.36 1436.7 149.66 1436.35 150.01 1427.95 153.12 1425.65 153.12 1425.3 152.77ZM1433.7 147.36 1434.05 147.01 1442.45 143.66 1444.75 143.66 1445.1 144.01 1445.1 146.31 1444.75 146.66 1436.35 150.01 1434.05 150.01 1433.7 149.66ZM1442.1 144.01 1442.45 143.66 1450.75 139.72 1453.05 139.72 1453.4 140.07 1453.4 142.37 1453.05 142.72 1444.75 146.66 1442.45 146.66 1442.1 146.31ZM1450.4 140.07 1450.75 139.72 1459.15 137.29 1461.45 137.29 1461.8 137.64 1461.8 139.94 1461.45 140.29 1453.05 142.72 1450.75 142.72 1450.4 142.37ZM1458.8 137.64 1459.15 137.29 1465.45 136.1 1467.75 136.1 1468.1 136.45 1468.1 138.75 1467.75 139.1 1461.45 140.29 1459.15 140.29 1458.8 139.94ZM1465.1 136.45 1465.45 136.1 1470.65 135.2 1472.95 135.2 1473.3 135.55 1473.3 137.85 1472.95 138.2 1467.75 139.1 1465.45 139.1 1465.1 138.75Z"/>
</g>
<clipPath id="one"><path clip-rule="evenodd" d="M-6 -46H130V14H-6Z M1.5 -4H10.3V1.5H1.5Z M14.35 -4H22.3V1.5H14.35Z"/></clipPath>
<g transform="translate(115.50,1208.5) scale(1.0,1.055)"><text class="tick" x="-11.59">0</text></g>
<g transform="translate(284.50,1208.5) scale(1.0,1.055)"><text class="tick" x="-23.17">50</text></g>
<g transform="translate(454.50,1208.5) scale(1.0,1.055)"><g transform="translate(-34.76,0)" clip-path="url(#one)"><text class="tick">100</text></g></g>
<g transform="translate(623.50,1208.5) scale(1.0,1.055)"><g transform="translate(-34.76,0)" clip-path="url(#one)"><text class="tick">150</text></g></g>
<g transform="translate(793.50,1208.5) scale(1.0,1.055)"><text class="tick" x="-34.76">200</text></g>
<g transform="translate(962.50,1208.5) scale(1.0,1.055)"><text class="tick" x="-34.76">250</text></g>
<g transform="translate(1132.50,1208.5) scale(1.0,1.055)"><text class="tick" x="-34.76">300</text></g>
<g transform="translate(1302.50,1208.5) scale(1.0,1.055)"><text class="tick" x="-34.76">350</text></g>
<g transform="translate(1471.50,1208.5) scale(1.0,1.055)"><text class="tick" x="-34.76">400</text></g>
<g transform="translate(97.9,1165.60) scale(1.0,1.055)"><text class="tick" x="-23.17">0</text></g>
<g transform="translate(97.9,987.60) scale(1.0,1.055)"><g transform="translate(-23.17,0)" clip-path="url(#one)"><text class="tick">1</text></g></g>
<g transform="translate(97.9,808.60) scale(1.0,1.055)"><text class="tick" x="-23.17">2</text></g>
<g transform="translate(97.9,630.60) scale(1.0,1.055)"><text class="tick" x="-23.17">3</text></g>
<g transform="translate(97.9,452.60) scale(1.0,1.055)"><text class="tick" x="-23.17">4</text></g>
<g transform="translate(97.9,274.60) scale(1.0,1.055)"><text class="tick" x="-23.17">5</text></g>
<g transform="translate(97.9,96.60) scale(1.0,1.055)"><text class="tick" x="-23.17">6</text></g>
<text class="tick" x="117.8" y="74.2" style="font-size:47.5px">×</text>
<g transform="translate(147.8,69.7) scale(1.0,1.055)"><g transform="translate(0.00,0)" clip-path="url(#one)"><text class="tick">10</text></g></g>
<text class="tick" x="195.3" y="48.2" style="font-size:33.3px">6</text>
<text class="lab" x="792" y="1267.6" text-anchor="middle">Time(s)</text>
<text class="lab" transform="translate(51.1,620.5) rotate(-90)" text-anchor="middle">Energy(J)</text>
<text class="title" transform="translate(793,63.2) scale(1.011,1)" text-anchor="middle">Total Energy</text>
<rect x="148.5" y="112.5" width="287" height="158" fill="#ffffff" stroke="#262626" stroke-width="3" shape-rendering="crispEdges"/>
<g stroke-width="3" shape-rendering="crispEdges">
<line x1="161" y1="142.5" x2="287" y2="142.5" stroke="#ff0000"/>
<line x1="161" y1="191.5" x2="287" y2="191.5" stroke="#0000ff"/>
<line x1="161" y1="240.5" x2="287" y2="240.5" stroke="#00ff00"/>
</g>
<text class="leg" x="295.8" y="157.9">DC</text>
<text class="leg" x="295.8" y="206.6">BB</text>
<text class="leg" x="295.8" y="255.8">PCBSB</text>
</svg>
</body>
</html>
